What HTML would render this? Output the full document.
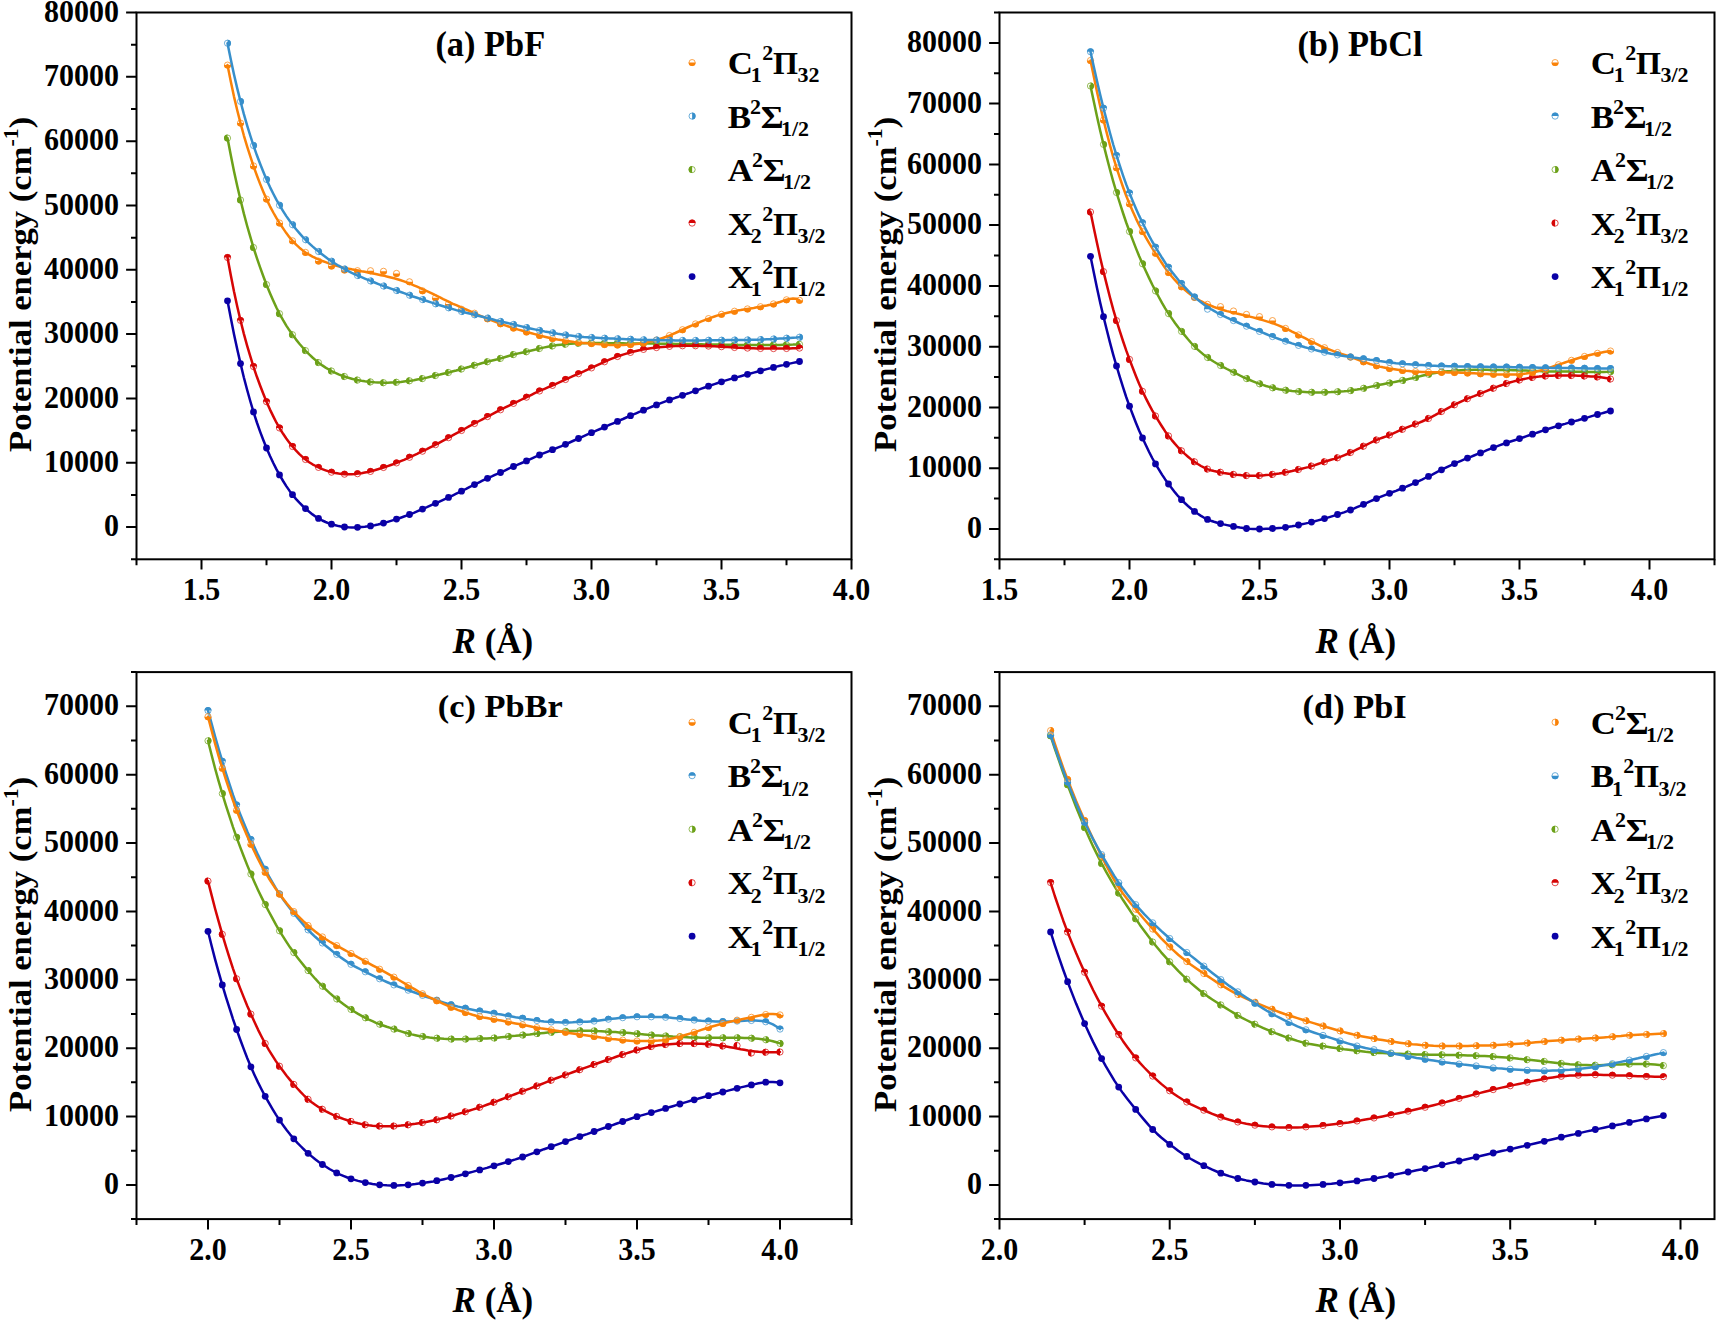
<!DOCTYPE html>
<html lang="en"><head><meta charset="utf-8"><title>Potential energy curves of PbX</title>
<style>html,body{margin:0;padding:0;background:#fff}svg{display:block}text{font-family:'Liberation Serif','Noto Serif CJK SC',serif;font-weight:bold;fill:#000}</style></head><body>
<svg width="1717" height="1321" viewBox="0 0 1717 1321">
<rect width="1717" height="1321" fill="#fff"/>
<g id="panel-a">
<g fill="#0A00A6"><circle cx="227.5" cy="300.8" r="3.4"/><circle cx="240.5" cy="363.6" r="3.4"/><circle cx="253.5" cy="411.9" r="3.4"/><circle cx="266.5" cy="448" r="3.4"/><circle cx="279.5" cy="474.9" r="3.4"/><circle cx="292.5" cy="494.7" r="3.4"/><circle cx="305.5" cy="508.6" r="3.4"/><circle cx="318.5" cy="518.4" r="3.4"/><circle cx="331.5" cy="524.2" r="3.4"/><circle cx="344.5" cy="527" r="3.4"/><circle cx="357.5" cy="527.3" r="3.4"/><circle cx="370.5" cy="525.9" r="3.4"/><circle cx="383.5" cy="523.1" r="3.4"/><circle cx="396.5" cy="519.1" r="3.4"/><circle cx="409.5" cy="514.5" r="3.4"/><circle cx="422.5" cy="509.1" r="3.4"/><circle cx="435.5" cy="503.3" r="3.4"/><circle cx="448.5" cy="497.4" r="3.4"/><circle cx="461.5" cy="491.2" r="3.4"/><circle cx="474.5" cy="484.6" r="3.4"/><circle cx="487.5" cy="478.3" r="3.4"/><circle cx="500.5" cy="472.5" r="3.4"/><circle cx="513.5" cy="466.5" r="3.4"/><circle cx="526.5" cy="460.9" r="3.4"/><circle cx="539.5" cy="455" r="3.4"/><circle cx="552.5" cy="449.7" r="3.4"/><circle cx="565.5" cy="444.3" r="3.4"/><circle cx="578.5" cy="438.5" r="3.4"/><circle cx="591.5" cy="432.7" r="3.4"/><circle cx="604.5" cy="427.1" r="3.4"/><circle cx="617.5" cy="421.4" r="3.4"/><circle cx="630.5" cy="415.7" r="3.4"/><circle cx="643.5" cy="410.2" r="3.4"/><circle cx="656.5" cy="404.9" r="3.4"/><circle cx="669.5" cy="399.9" r="3.4"/><circle cx="682.5" cy="395.3" r="3.4"/><circle cx="695.5" cy="390.8" r="3.4"/><circle cx="708.5" cy="386.2" r="3.4"/><circle cx="721.5" cy="381.8" r="3.4"/><circle cx="734.5" cy="377.9" r="3.4"/><circle cx="747.5" cy="374.3" r="3.4"/><circle cx="760.5" cy="370.8" r="3.4"/><circle cx="773.5" cy="367.4" r="3.4"/><circle cx="786.5" cy="364.3" r="3.4"/><circle cx="799.5" cy="361.5" r="3.4"/></g>
<polyline fill="none" stroke="#0A00A6" stroke-width="2.5" stroke-linejoin="round" stroke-linecap="round" points="227.5,300.8 230.8,318.1 234,334.3 237.3,349.6 240.6,363.9 243.8,377.3 247.1,389.8 250.4,401.5 253.6,412.4 256.9,422.5 260.2,431.8 263.5,440.5 266.7,448.5 270,456 273.3,463 276.5,469.4 279.8,475.4 283.1,481 286.3,486.1 289.6,490.9 292.9,495.2 296.1,499.1 299.4,502.7 302.7,506 305.9,509 309.2,511.8 312.5,514.4 315.8,516.7 319,518.7 322.3,520.5 325.6,522 328.8,523.3 332.1,524.4 335.4,525.3 338.6,526.1 341.9,526.7 345.2,527.1 348.4,527.3 351.7,527.4 355,527.4 358.2,527.3 361.5,527 364.8,526.7 368,526.3 371.3,525.8 374.6,525.2 377.9,524.5 381.1,523.7 384.4,522.9 387.7,521.9 390.9,520.9 394.2,519.9 397.5,518.8 400.7,517.7 404,516.5 407.3,515.3 410.5,514.1 413.8,512.8 417.1,511.4 420.3,510 423.6,508.6 426.9,507.2 430.2,505.7 433.4,504.2 436.7,502.8 440,501.3 443.2,499.8 446.5,498.3 449.8,496.8 453,495.3 456.3,493.7 459.6,492.2 462.8,490.5 466.1,488.9 469.4,487.2 472.6,485.5 475.9,483.9 479.2,482.3 482.4,480.7 485.7,479.1 489,477.6 492.3,476.2 495.5,474.7 498.8,473.3 502.1,471.8 505.3,470.3 508.6,468.7 511.9,467.2 515.1,465.8 518.4,464.4 521.7,463 524.9,461.6 528.2,460.1 531.5,458.6 534.7,457.1 538,455.7 541.3,454.2 544.6,452.9 547.8,451.6 551.1,450.3 554.4,449 557.6,447.6 560.9,446.3 564.2,444.9 567.4,443.5 570.7,442 574,440.5 577.2,439.1 580.5,437.6 583.8,436.1 587,434.7 590.3,433.2 593.6,431.8 596.8,430.4 600.1,429 603.4,427.6 606.7,426.2 609.9,424.7 613.2,423.3 616.5,421.9 619.7,420.4 623,419 626.3,417.5 629.5,416.1 632.8,414.7 636.1,413.3 639.3,411.9 642.6,410.6 645.9,409.2 649.1,407.9 652.4,406.5 655.7,405.2 659,403.9 662.2,402.7 665.5,401.4 668.8,400.2 672,399 675.3,397.8 678.6,396.7 681.8,395.5 685.1,394.4 688.4,393.3 691.6,392.1 694.9,391 698.2,389.9 701.4,388.7 704.7,387.5 708,386.4 711.2,385.2 714.5,384.1 717.8,383 721.1,381.9 724.3,380.9 727.6,379.9 730.9,378.9 734.1,378 737.4,377.1 740.7,376.2 743.9,375.3 747.2,374.4 750.5,373.5 753.7,372.6 757,371.7 760.3,370.9 763.5,370 766.8,369.1 770.1,368.3 773.4,367.4 776.6,366.6 779.9,365.8 783.2,365.1 786.4,364.3 789.7,363.6 793,362.9 796.2,362.2 799.5,361.5"/>
<g fill="#fff" fill-opacity="0.35" stroke="#6CA119" stroke-opacity="0.8" stroke-width="0.9"><circle cx="227.5" cy="138.1" r="3.1"/><circle cx="240.5" cy="200" r="3.1"/><circle cx="253.5" cy="247.5" r="3.1"/><circle cx="266.5" cy="284.6" r="3.1"/><circle cx="279.5" cy="313.7" r="3.1"/><circle cx="292.5" cy="334.7" r="3.1"/><circle cx="305.5" cy="350.6" r="3.1"/><circle cx="318.5" cy="362.6" r="3.1"/><circle cx="331.5" cy="371" r="3.1"/><circle cx="344.5" cy="376.5" r="3.1"/><circle cx="357.5" cy="380.1" r="3.1"/><circle cx="370.5" cy="381.9" r="3.1"/><circle cx="383.5" cy="382.7" r="3.1"/><circle cx="396.5" cy="382.3" r="3.1"/><circle cx="409.5" cy="380.8" r="3.1"/><circle cx="422.5" cy="378.6" r="3.1"/><circle cx="435.5" cy="375.5" r="3.1"/><circle cx="448.5" cy="372.5" r="3.1"/><circle cx="461.5" cy="369" r="3.1"/><circle cx="474.5" cy="365.3" r="3.1"/><circle cx="487.5" cy="361.7" r="3.1"/><circle cx="500.5" cy="358.4" r="3.1"/><circle cx="513.5" cy="354.6" r="3.1"/><circle cx="526.5" cy="351.7" r="3.1"/><circle cx="539.5" cy="348.5" r="3.1"/><circle cx="552.5" cy="345.9" r="3.1"/><circle cx="565.5" cy="344.2" r="3.1"/><circle cx="578.5" cy="343.3" r="3.1"/><circle cx="591.5" cy="343.1" r="3.1"/><circle cx="604.5" cy="343.2" r="3.1"/><circle cx="617.5" cy="343.3" r="3.1"/><circle cx="630.5" cy="343.4" r="3.1"/><circle cx="643.5" cy="343.5" r="3.1"/><circle cx="656.5" cy="343.6" r="3.1"/><circle cx="669.5" cy="343.8" r="3.1"/><circle cx="682.5" cy="344" r="3.1"/><circle cx="695.5" cy="344.2" r="3.1"/><circle cx="708.5" cy="344.5" r="3.1"/><circle cx="721.5" cy="344.7" r="3.1"/><circle cx="734.5" cy="344.9" r="3.1"/><circle cx="747.5" cy="345" r="3.1"/><circle cx="760.5" cy="345.1" r="3.1"/><circle cx="773.5" cy="345" r="3.1"/><circle cx="786.5" cy="344.8" r="3.1"/><circle cx="799.5" cy="344.3" r="3.1"/></g>
<path fill="#6CA119" d="M227.5 134.6a3.5 3.5 0 0 0 0 7zM240.5 196.5a3.5 3.5 0 0 0 0 7zM253.5 244a3.5 3.5 0 0 0 0 7zM266.5 281.1a3.5 3.5 0 0 0 0 7zM279.5 310.2a3.5 3.5 0 0 0 0 7zM292.5 331.2a3.5 3.5 0 0 0 0 7zM305.5 347.1a3.5 3.5 0 0 0 0 7zM318.5 359.1a3.5 3.5 0 0 0 0 7zM331.5 367.5a3.5 3.5 0 0 0 0 7zM344.5 373a3.5 3.5 0 0 0 0 7zM357.5 376.6a3.5 3.5 0 0 0 0 7zM370.5 378.4a3.5 3.5 0 0 0 0 7zM383.5 379.2a3.5 3.5 0 0 0 0 7zM396.5 378.8a3.5 3.5 0 0 0 0 7zM409.5 377.3a3.5 3.5 0 0 0 0 7zM422.5 375.1a3.5 3.5 0 0 0 0 7zM435.5 372a3.5 3.5 0 0 0 0 7zM448.5 369a3.5 3.5 0 0 0 0 7zM461.5 365.5a3.5 3.5 0 0 0 0 7zM474.5 361.8a3.5 3.5 0 0 0 0 7zM487.5 358.2a3.5 3.5 0 0 0 0 7zM500.5 354.9a3.5 3.5 0 0 0 0 7zM513.5 351.1a3.5 3.5 0 0 0 0 7zM526.5 348.2a3.5 3.5 0 0 0 0 7zM539.5 345a3.5 3.5 0 0 0 0 7zM552.5 342.4a3.5 3.5 0 0 0 0 7zM565.5 340.7a3.5 3.5 0 0 0 0 7zM578.5 339.8a3.5 3.5 0 0 0 0 7zM591.5 339.6a3.5 3.5 0 0 0 0 7zM604.5 339.7a3.5 3.5 0 0 0 0 7zM617.5 339.8a3.5 3.5 0 0 0 0 7zM630.5 339.9a3.5 3.5 0 0 0 0 7zM643.5 340a3.5 3.5 0 0 0 0 7zM656.5 340.1a3.5 3.5 0 0 0 0 7zM669.5 340.3a3.5 3.5 0 0 0 0 7zM682.5 340.5a3.5 3.5 0 0 0 0 7zM695.5 340.7a3.5 3.5 0 0 0 0 7zM708.5 341a3.5 3.5 0 0 0 0 7zM721.5 341.2a3.5 3.5 0 0 0 0 7zM734.5 341.4a3.5 3.5 0 0 0 0 7zM747.5 341.5a3.5 3.5 0 0 0 0 7zM760.5 341.6a3.5 3.5 0 0 0 0 7zM773.5 341.5a3.5 3.5 0 0 0 0 7zM786.5 341.3a3.5 3.5 0 0 0 0 7zM799.5 340.8a3.5 3.5 0 0 0 0 7z"/>
<polyline fill="none" stroke="#6CA119" stroke-width="2.5" stroke-linejoin="round" stroke-linecap="round" points="227.5,138.1 230.8,155.2 234,171.3 237.3,186.3 240.6,200.3 243.8,213.4 247.1,225.7 250.4,237.2 253.6,248 256.9,258.1 260.2,267.7 263.5,276.7 266.7,285.2 270,293.2 273.3,300.8 276.5,307.8 279.8,314.3 283.1,320.2 286.3,325.6 289.6,330.6 292.9,335.2 296.1,339.6 299.4,343.7 302.7,347.5 305.9,351.1 309.2,354.4 312.5,357.5 315.8,360.4 319,363 322.3,365.4 325.6,367.6 328.8,369.5 332.1,371.3 335.4,372.9 338.6,374.3 341.9,375.6 345.2,376.7 348.4,377.8 351.7,378.7 355,379.6 358.2,380.2 361.5,380.8 364.8,381.3 368,381.7 371.3,382 374.6,382.3 377.9,382.5 381.1,382.6 384.4,382.7 387.7,382.7 390.9,382.6 394.2,382.5 397.5,382.2 400.7,381.9 404,381.5 407.3,381.1 410.5,380.7 413.8,380.2 417.1,379.6 420.3,379 423.6,378.4 426.9,377.6 430.2,376.8 433.4,376 436.7,375.2 440,374.5 443.2,373.7 446.5,373 449.8,372.2 453,371.3 456.3,370.5 459.6,369.5 462.8,368.6 466.1,367.7 469.4,366.8 472.6,365.8 475.9,364.9 479.2,364 482.4,363 485.7,362.2 489,361.3 492.3,360.5 495.5,359.7 498.8,358.9 502.1,358 505.3,357 508.6,356 511.9,355 515.1,354.2 518.4,353.4 521.7,352.7 524.9,352 528.2,351.3 531.5,350.5 534.7,349.7 538,348.9 541.3,348.1 544.6,347.4 547.8,346.7 551.1,346.1 554.4,345.6 557.6,345.1 560.9,344.7 564.2,344.3 567.4,344 570.7,343.7 574,343.5 577.2,343.4 580.5,343.2 583.8,343.2 587,343.1 590.3,343.1 593.6,343.1 596.8,343.1 600.1,343.1 603.4,343.2 606.7,343.2 609.9,343.2 613.2,343.3 616.5,343.3 619.7,343.3 623,343.3 626.3,343.4 629.5,343.4 632.8,343.4 636.1,343.4 639.3,343.5 642.6,343.5 645.9,343.5 649.1,343.6 652.4,343.6 655.7,343.6 659,343.7 662.2,343.7 665.5,343.7 668.8,343.8 672,343.8 675.3,343.9 678.6,343.9 681.8,344 685.1,344 688.4,344.1 691.6,344.1 694.9,344.2 698.2,344.3 701.4,344.3 704.7,344.4 708,344.4 711.2,344.5 714.5,344.6 717.8,344.6 721.1,344.7 724.3,344.7 727.6,344.8 730.9,344.8 734.1,344.9 737.4,344.9 740.7,344.9 743.9,345 747.2,345 750.5,345 753.7,345 757,345 760.3,345.1 763.5,345.1 766.8,345 770.1,345 773.4,345 776.6,345 779.9,344.9 783.2,344.8 786.4,344.8 789.7,344.7 793,344.6 796.2,344.4 799.5,344.3"/>
<g fill="#fff" fill-opacity="0.35" stroke="#D60505" stroke-opacity="0.8" stroke-width="0.9"><circle cx="227.5" cy="257.5" r="3.1"/><circle cx="240.5" cy="320.4" r="3.1"/><circle cx="253.5" cy="366.6" r="3.1"/><circle cx="266.5" cy="401.7" r="3.1"/><circle cx="279.5" cy="428" r="3.1"/><circle cx="292.5" cy="446.5" r="3.1"/><circle cx="305.5" cy="459.5" r="3.1"/><circle cx="318.5" cy="467.4" r="3.1"/><circle cx="331.5" cy="472.2" r="3.1"/><circle cx="344.5" cy="474.2" r="3.1"/><circle cx="357.5" cy="473.7" r="3.1"/><circle cx="370.5" cy="471.4" r="3.1"/><circle cx="383.5" cy="467.5" r="3.1"/><circle cx="396.5" cy="462.9" r="3.1"/><circle cx="409.5" cy="457.3" r="3.1"/><circle cx="422.5" cy="451.2" r="3.1"/><circle cx="435.5" cy="444.7" r="3.1"/><circle cx="448.5" cy="437.7" r="3.1"/><circle cx="461.5" cy="430.5" r="3.1"/><circle cx="474.5" cy="423.5" r="3.1"/><circle cx="487.5" cy="416.6" r="3.1"/><circle cx="500.5" cy="409.8" r="3.1"/><circle cx="513.5" cy="403.4" r="3.1"/><circle cx="526.5" cy="397.2" r="3.1"/><circle cx="539.5" cy="391" r="3.1"/><circle cx="552.5" cy="385.4" r="3.1"/><circle cx="565.5" cy="379.5" r="3.1"/><circle cx="578.5" cy="373.7" r="3.1"/><circle cx="591.5" cy="367.9" r="3.1"/><circle cx="604.5" cy="361.8" r="3.1"/><circle cx="617.5" cy="356.5" r="3.1"/><circle cx="630.5" cy="352.4" r="3.1"/><circle cx="643.5" cy="349.4" r="3.1"/><circle cx="656.5" cy="347.6" r="3.1"/><circle cx="669.5" cy="346.4" r="3.1"/><circle cx="682.5" cy="345.8" r="3.1"/><circle cx="695.5" cy="345.8" r="3.1"/><circle cx="708.5" cy="346.1" r="3.1"/><circle cx="721.5" cy="346.7" r="3.1"/><circle cx="734.5" cy="347.5" r="3.1"/><circle cx="747.5" cy="348.1" r="3.1"/><circle cx="760.5" cy="348.5" r="3.1"/><circle cx="773.5" cy="348.6" r="3.1"/><circle cx="786.5" cy="348.5" r="3.1"/><circle cx="799.5" cy="348.1" r="3.1"/></g>
<path fill="#D60505" d="M224 257.5a3.5 3.5 0 0 1 7 0zM237 320.4a3.5 3.5 0 0 1 7 0zM250 366.6a3.5 3.5 0 0 1 7 0zM263 401.7a3.5 3.5 0 0 1 7 0zM276 428a3.5 3.5 0 0 1 7 0zM289 446.5a3.5 3.5 0 0 1 7 0zM302 459.5a3.5 3.5 0 0 1 7 0zM315 467.4a3.5 3.5 0 0 1 7 0zM328 472.2a3.5 3.5 0 0 1 7 0zM341 474.2a3.5 3.5 0 0 1 7 0zM354 473.7a3.5 3.5 0 0 1 7 0zM367 471.4a3.5 3.5 0 0 1 7 0zM380 467.5a3.5 3.5 0 0 1 7 0zM393 462.9a3.5 3.5 0 0 1 7 0zM406 457.3a3.5 3.5 0 0 1 7 0zM419 451.2a3.5 3.5 0 0 1 7 0zM432 444.7a3.5 3.5 0 0 1 7 0zM445 437.7a3.5 3.5 0 0 1 7 0zM458 430.5a3.5 3.5 0 0 1 7 0zM471 423.5a3.5 3.5 0 0 1 7 0zM484 416.6a3.5 3.5 0 0 1 7 0zM497 409.8a3.5 3.5 0 0 1 7 0zM510 403.4a3.5 3.5 0 0 1 7 0zM523 397.2a3.5 3.5 0 0 1 7 0zM536 391a3.5 3.5 0 0 1 7 0zM549 385.4a3.5 3.5 0 0 1 7 0zM562 379.5a3.5 3.5 0 0 1 7 0zM575 373.7a3.5 3.5 0 0 1 7 0zM588 367.9a3.5 3.5 0 0 1 7 0zM601 361.8a3.5 3.5 0 0 1 7 0zM614 356.5a3.5 3.5 0 0 1 7 0zM627 352.4a3.5 3.5 0 0 1 7 0zM640 349.4a3.5 3.5 0 0 1 7 0zM653 347.6a3.5 3.5 0 0 1 7 0zM666 346.4a3.5 3.5 0 0 1 7 0zM679 345.8a3.5 3.5 0 0 1 7 0zM692 345.8a3.5 3.5 0 0 1 7 0zM705 346.1a3.5 3.5 0 0 1 7 0zM718 346.7a3.5 3.5 0 0 1 7 0zM731 347.5a3.5 3.5 0 0 1 7 0zM744 348.1a3.5 3.5 0 0 1 7 0zM757 348.5a3.5 3.5 0 0 1 7 0zM770 348.6a3.5 3.5 0 0 1 7 0zM783 348.5a3.5 3.5 0 0 1 7 0zM796 348.1a3.5 3.5 0 0 1 7 0z"/>
<polyline fill="none" stroke="#D60505" stroke-width="2.5" stroke-linejoin="round" stroke-linecap="round" points="227.5,257.5 230.8,275.2 234,291.6 237.3,306.7 240.6,320.7 243.8,333.6 247.1,345.6 250.4,356.7 253.6,367.1 256.9,376.8 260.2,385.8 263.5,394.3 266.7,402.2 270,409.6 273.3,416.4 276.5,422.7 279.8,428.5 283.1,433.8 286.3,438.5 289.6,442.9 292.9,446.9 296.1,450.7 299.4,454.1 302.7,457.1 305.9,459.8 309.2,462.2 312.5,464.3 315.8,466 319,467.6 322.3,469.1 325.6,470.3 328.8,471.4 332.1,472.4 335.4,473.1 338.6,473.6 341.9,474 345.2,474.2 348.4,474.3 351.7,474.2 355,474 358.2,473.6 361.5,473.2 364.8,472.6 368,472 371.3,471.2 374.6,470.3 377.9,469.3 381.1,468.3 384.4,467.2 387.7,466.1 390.9,465 394.2,463.8 397.5,462.5 400.7,461.2 404,459.8 407.3,458.3 410.5,456.8 413.8,455.3 417.1,453.8 420.3,452.2 423.6,450.7 426.9,449.1 430.2,447.4 433.4,445.8 436.7,444.1 440,442.3 443.2,440.6 446.5,438.8 449.8,437 453,435.2 456.3,433.4 459.6,431.6 462.8,429.8 466.1,428 469.4,426.2 472.6,424.5 475.9,422.7 479.2,421 482.4,419.3 485.7,417.5 489,415.8 492.3,414.1 495.5,412.4 498.8,410.7 502.1,409 505.3,407.4 508.6,405.8 511.9,404.2 515.1,402.6 518.4,401.1 521.7,399.5 524.9,398 528.2,396.4 531.5,394.8 534.7,393.2 538,391.7 541.3,390.2 544.6,388.8 547.8,387.4 551.1,386 554.4,384.6 557.6,383.1 560.9,381.6 564.2,380.1 567.4,378.6 570.7,377.2 574,375.7 577.2,374.3 580.5,372.8 583.8,371.4 587,369.9 590.3,368.4 593.6,366.9 596.8,365.4 600.1,363.8 603.4,362.3 606.7,360.8 609.9,359.4 613.2,358.1 616.5,356.9 619.7,355.7 623,354.6 626.3,353.6 629.5,352.7 632.8,351.8 636.1,351 639.3,350.2 642.6,349.6 645.9,349 649.1,348.5 652.4,348.1 655.7,347.7 659,347.3 662.2,347 665.5,346.7 668.8,346.5 672,346.2 675.3,346.1 678.6,345.9 681.8,345.8 685.1,345.8 688.4,345.7 691.6,345.8 694.9,345.8 698.2,345.8 701.4,345.9 704.7,346 708,346.1 711.2,346.2 714.5,346.3 717.8,346.5 721.1,346.7 724.3,346.9 727.6,347.1 730.9,347.3 734.1,347.5 737.4,347.7 740.7,347.8 743.9,348 747.2,348.1 750.5,348.2 753.7,348.3 757,348.4 760.3,348.5 763.5,348.5 766.8,348.6 770.1,348.6 773.4,348.6 776.6,348.6 779.9,348.6 783.2,348.5 786.4,348.5 789.7,348.4 793,348.3 796.2,348.2 799.5,348.1"/>
<g fill="#fff" fill-opacity="0.35" stroke="#FA8208" stroke-opacity="0.8" stroke-width="0.9"><circle cx="227.5" cy="65.1" r="3.1"/><circle cx="240.5" cy="123.1" r="3.1"/><circle cx="253.5" cy="165.9" r="3.1"/><circle cx="266.5" cy="199.1" r="3.1"/><circle cx="279.5" cy="223" r="3.1"/><circle cx="292.5" cy="240.8" r="3.1"/><circle cx="305.5" cy="252.4" r="3.1"/><circle cx="318.5" cy="261.1" r="3.1"/><circle cx="331.5" cy="266" r="3.1"/><circle cx="344.5" cy="269.9" r="3.1"/><circle cx="357.5" cy="270.7" r="3.1"/><circle cx="370.5" cy="270.7" r="3.1"/><circle cx="383.5" cy="271.3" r="3.1"/><circle cx="396.5" cy="273.4" r="3.1"/><circle cx="409.5" cy="281.8" r="3.1"/><circle cx="422.5" cy="290.8" r="3.1"/><circle cx="435.5" cy="297.8" r="3.1"/><circle cx="448.5" cy="304" r="3.1"/><circle cx="461.5" cy="309.2" r="3.1"/><circle cx="474.5" cy="313.2" r="3.1"/><circle cx="487.5" cy="318.8" r="3.1"/><circle cx="500.5" cy="323.7" r="3.1"/><circle cx="513.5" cy="328.1" r="3.1"/><circle cx="526.5" cy="331.9" r="3.1"/><circle cx="539.5" cy="335.4" r="3.1"/><circle cx="552.5" cy="338.6" r="3.1"/><circle cx="565.5" cy="340.8" r="3.1"/><circle cx="578.5" cy="342.5" r="3.1"/><circle cx="591.5" cy="343.6" r="3.1"/><circle cx="604.5" cy="344.6" r="3.1"/><circle cx="617.5" cy="345" r="3.1"/><circle cx="630.5" cy="344.6" r="3.1"/><circle cx="643.5" cy="343.1" r="3.1"/><circle cx="656.5" cy="340" r="3.1"/><circle cx="669.5" cy="335.5" r="3.1"/><circle cx="682.5" cy="329.7" r="3.1"/><circle cx="695.5" cy="323.9" r="3.1"/><circle cx="708.5" cy="318.6" r="3.1"/><circle cx="721.5" cy="314.3" r="3.1"/><circle cx="734.5" cy="311.2" r="3.1"/><circle cx="747.5" cy="308.9" r="3.1"/><circle cx="760.5" cy="306.7" r="3.1"/><circle cx="773.5" cy="303.9" r="3.1"/><circle cx="786.5" cy="299.8" r="3.1"/><circle cx="799.5" cy="300.3" r="3.1"/></g>
<path fill="#FA8208" d="M224 65.1a3.5 3.5 0 0 0 7 0zM237 123.1a3.5 3.5 0 0 0 7 0zM250 165.9a3.5 3.5 0 0 0 7 0zM263 199.1a3.5 3.5 0 0 0 7 0zM276 223a3.5 3.5 0 0 0 7 0zM289 240.8a3.5 3.5 0 0 0 7 0zM302 252.4a3.5 3.5 0 0 0 7 0zM315 261.1a3.5 3.5 0 0 0 7 0zM328 266a3.5 3.5 0 0 0 7 0zM341 269.9a3.5 3.5 0 0 0 7 0zM354 270.7a3.5 3.5 0 0 0 7 0zM367 270.7a3.5 3.5 0 0 0 7 0zM380 271.3a3.5 3.5 0 0 0 7 0zM393 273.4a3.5 3.5 0 0 0 7 0zM406 281.8a3.5 3.5 0 0 0 7 0zM419 290.8a3.5 3.5 0 0 0 7 0zM432 297.8a3.5 3.5 0 0 0 7 0zM445 304a3.5 3.5 0 0 0 7 0zM458 309.2a3.5 3.5 0 0 0 7 0zM471 313.2a3.5 3.5 0 0 0 7 0zM484 318.8a3.5 3.5 0 0 0 7 0zM497 323.7a3.5 3.5 0 0 0 7 0zM510 328.1a3.5 3.5 0 0 0 7 0zM523 331.9a3.5 3.5 0 0 0 7 0zM536 335.4a3.5 3.5 0 0 0 7 0zM549 338.6a3.5 3.5 0 0 0 7 0zM562 340.8a3.5 3.5 0 0 0 7 0zM575 342.5a3.5 3.5 0 0 0 7 0zM588 343.6a3.5 3.5 0 0 0 7 0zM601 344.6a3.5 3.5 0 0 0 7 0zM614 345a3.5 3.5 0 0 0 7 0zM627 344.6a3.5 3.5 0 0 0 7 0zM640 343.1a3.5 3.5 0 0 0 7 0zM653 340a3.5 3.5 0 0 0 7 0zM666 335.5a3.5 3.5 0 0 0 7 0zM679 329.7a3.5 3.5 0 0 0 7 0zM692 323.9a3.5 3.5 0 0 0 7 0zM705 318.6a3.5 3.5 0 0 0 7 0zM718 314.3a3.5 3.5 0 0 0 7 0zM731 311.2a3.5 3.5 0 0 0 7 0zM744 308.9a3.5 3.5 0 0 0 7 0zM757 306.7a3.5 3.5 0 0 0 7 0zM770 303.9a3.5 3.5 0 0 0 7 0zM783 299.8a3.5 3.5 0 0 0 7 0zM796 300.3a3.5 3.5 0 0 0 7 0z"/>
<polyline fill="none" stroke="#FA8208" stroke-width="2.5" stroke-linejoin="round" stroke-linecap="round" points="227.5,65.1 230.8,81.5 234,96.6 237.3,110.5 240.6,123.4 243.8,135.3 247.1,146.3 250.4,156.6 253.6,166.3 256.9,175.5 260.2,184.1 263.5,192.2 266.7,199.6 270,206.3 273.3,212.5 276.5,218.2 279.8,223.5 283.1,228.4 286.3,233.1 289.6,237.4 292.9,241.2 296.1,244.7 299.4,247.7 302.7,250.4 305.9,252.7 309.2,254.7 312.5,256.6 315.8,258.2 319,259.6 322.3,261 325.6,262.2 328.8,263.4 332.1,264.5 335.4,265.5 338.6,266.4 341.9,267.2 345.2,267.9 348.4,268.6 351.7,269.3 355,269.9 358.2,270.5 361.5,271.2 364.8,271.8 368,272.5 371.3,273.2 374.6,273.8 377.9,274.5 381.1,275.2 384.4,275.9 387.7,276.7 390.9,277.5 394.2,278.3 397.5,279.3 400.7,280.3 404,281.4 407.3,282.6 410.5,283.9 413.8,285.3 417.1,286.7 420.3,288.1 423.6,289.6 426.9,291.1 430.2,292.6 433.4,294.2 436.7,295.8 440,297.4 443.2,299.1 446.5,300.7 449.8,302.3 453,303.8 456.3,305.2 459.6,306.7 462.8,308.1 466.1,309.5 469.4,310.9 472.6,312.4 475.9,313.8 479.2,315.3 482.4,316.7 485.7,318.1 489,319.4 492.3,320.7 495.5,321.9 498.8,323.1 502.1,324.3 505.3,325.4 508.6,326.5 511.9,327.6 515.1,328.6 518.4,329.6 521.7,330.5 524.9,331.5 528.2,332.4 531.5,333.3 534.7,334.1 538,335 541.3,335.9 544.6,336.7 547.8,337.5 551.1,338.3 554.4,339 557.6,339.6 560.9,340.1 564.2,340.6 567.4,341.1 570.7,341.5 574,342 577.2,342.4 580.5,342.7 583.8,343 587,343.3 590.3,343.5 593.6,343.8 596.8,344 600.1,344.3 603.4,344.5 606.7,344.7 609.9,344.9 613.2,345 616.5,345 619.7,345 623,344.9 626.3,344.8 629.5,344.7 632.8,344.4 636.1,344.1 639.3,343.7 642.6,343.3 645.9,342.7 649.1,341.9 652.4,341.1 655.7,340.2 659,339.3 662.2,338.2 665.5,337 668.8,335.8 672,334.4 675.3,333 678.6,331.5 681.8,330 685.1,328.5 688.4,327 691.6,325.6 694.9,324.2 698.2,322.8 701.4,321.4 704.7,320.1 708,318.8 711.2,317.6 714.5,316.5 717.8,315.4 721.1,314.4 724.3,313.5 727.6,312.7 730.9,312 734.1,311.3 737.4,310.6 740.7,310.1 743.9,309.5 747.2,308.9 750.5,308.4 753.7,307.9 757,307.3 760.3,306.7 763.5,306.1 766.8,305.5 770.1,304.8 773.4,303.9 776.6,303 779.9,302 783.2,300.9 786.4,299.8 789.7,298.9 793,298.4 796.2,298.7 799.5,300.3"/>
<g fill="#fff" fill-opacity="0.35" stroke="#378FCB" stroke-opacity="0.8" stroke-width="0.9"><circle cx="227.5" cy="43.2" r="3.1"/><circle cx="240.5" cy="101.4" r="3.1"/><circle cx="253.5" cy="145.5" r="3.1"/><circle cx="266.5" cy="179.4" r="3.1"/><circle cx="279.5" cy="205.2" r="3.1"/><circle cx="292.5" cy="224.7" r="3.1"/><circle cx="305.5" cy="239.7" r="3.1"/><circle cx="318.5" cy="251.5" r="3.1"/><circle cx="331.5" cy="261.2" r="3.1"/><circle cx="344.5" cy="269" r="3.1"/><circle cx="357.5" cy="275.5" r="3.1"/><circle cx="370.5" cy="280.9" r="3.1"/><circle cx="383.5" cy="286" r="3.1"/><circle cx="396.5" cy="290.5" r="3.1"/><circle cx="409.5" cy="295.2" r="3.1"/><circle cx="422.5" cy="299.6" r="3.1"/><circle cx="435.5" cy="303.8" r="3.1"/><circle cx="448.5" cy="307.8" r="3.1"/><circle cx="461.5" cy="311.5" r="3.1"/><circle cx="474.5" cy="314.8" r="3.1"/><circle cx="487.5" cy="318.1" r="3.1"/><circle cx="500.5" cy="321.4" r="3.1"/><circle cx="513.5" cy="324.4" r="3.1"/><circle cx="526.5" cy="327.6" r="3.1"/><circle cx="539.5" cy="330.4" r="3.1"/><circle cx="552.5" cy="332.8" r="3.1"/><circle cx="565.5" cy="334.9" r="3.1"/><circle cx="578.5" cy="336.5" r="3.1"/><circle cx="591.5" cy="337.5" r="3.1"/><circle cx="604.5" cy="338.2" r="3.1"/><circle cx="617.5" cy="338.8" r="3.1"/><circle cx="630.5" cy="339.3" r="3.1"/><circle cx="643.5" cy="339.8" r="3.1"/><circle cx="656.5" cy="340.1" r="3.1"/><circle cx="669.5" cy="340.3" r="3.1"/><circle cx="682.5" cy="340.4" r="3.1"/><circle cx="695.5" cy="340.4" r="3.1"/><circle cx="708.5" cy="340.3" r="3.1"/><circle cx="721.5" cy="340.2" r="3.1"/><circle cx="734.5" cy="340.1" r="3.1"/><circle cx="747.5" cy="339.9" r="3.1"/><circle cx="760.5" cy="339.6" r="3.1"/><circle cx="773.5" cy="339" r="3.1"/><circle cx="786.5" cy="338.2" r="3.1"/><circle cx="799.5" cy="337.2" r="3.1"/></g>
<path fill="#378FCB" d="M227.5 39.7a3.5 3.5 0 0 1 0 7zM240.5 97.9a3.5 3.5 0 0 1 0 7zM253.5 142a3.5 3.5 0 0 1 0 7zM266.5 175.9a3.5 3.5 0 0 1 0 7zM279.5 201.7a3.5 3.5 0 0 1 0 7zM292.5 221.2a3.5 3.5 0 0 1 0 7zM305.5 236.2a3.5 3.5 0 0 1 0 7zM318.5 248a3.5 3.5 0 0 1 0 7zM331.5 257.7a3.5 3.5 0 0 1 0 7zM344.5 265.5a3.5 3.5 0 0 1 0 7zM357.5 272a3.5 3.5 0 0 1 0 7zM370.5 277.4a3.5 3.5 0 0 1 0 7zM383.5 282.5a3.5 3.5 0 0 1 0 7zM396.5 287a3.5 3.5 0 0 1 0 7zM409.5 291.7a3.5 3.5 0 0 1 0 7zM422.5 296.1a3.5 3.5 0 0 1 0 7zM435.5 300.3a3.5 3.5 0 0 1 0 7zM448.5 304.3a3.5 3.5 0 0 1 0 7zM461.5 308a3.5 3.5 0 0 1 0 7zM474.5 311.3a3.5 3.5 0 0 1 0 7zM487.5 314.6a3.5 3.5 0 0 1 0 7zM500.5 317.9a3.5 3.5 0 0 1 0 7zM513.5 320.9a3.5 3.5 0 0 1 0 7zM526.5 324.1a3.5 3.5 0 0 1 0 7zM539.5 326.9a3.5 3.5 0 0 1 0 7zM552.5 329.3a3.5 3.5 0 0 1 0 7zM565.5 331.4a3.5 3.5 0 0 1 0 7zM578.5 333a3.5 3.5 0 0 1 0 7zM591.5 334a3.5 3.5 0 0 1 0 7zM604.5 334.7a3.5 3.5 0 0 1 0 7zM617.5 335.3a3.5 3.5 0 0 1 0 7zM630.5 335.8a3.5 3.5 0 0 1 0 7zM643.5 336.3a3.5 3.5 0 0 1 0 7zM656.5 336.6a3.5 3.5 0 0 1 0 7zM669.5 336.8a3.5 3.5 0 0 1 0 7zM682.5 336.9a3.5 3.5 0 0 1 0 7zM695.5 336.9a3.5 3.5 0 0 1 0 7zM708.5 336.8a3.5 3.5 0 0 1 0 7zM721.5 336.7a3.5 3.5 0 0 1 0 7zM734.5 336.6a3.5 3.5 0 0 1 0 7zM747.5 336.4a3.5 3.5 0 0 1 0 7zM760.5 336.1a3.5 3.5 0 0 1 0 7zM773.5 335.5a3.5 3.5 0 0 1 0 7zM786.5 334.7a3.5 3.5 0 0 1 0 7zM799.5 333.7a3.5 3.5 0 0 1 0 7z"/>
<polyline fill="none" stroke="#378FCB" stroke-width="2.5" stroke-linejoin="round" stroke-linecap="round" points="227.5,43.2 230.8,59.4 234,74.5 237.3,88.6 240.6,101.7 243.8,113.9 247.1,125.3 250.4,136 253.6,145.9 256.9,155.3 260.2,164 263.5,172.2 266.7,179.9 270,187.1 273.3,193.7 276.5,199.9 279.8,205.7 283.1,211.1 286.3,216.1 289.6,220.8 292.9,225.2 296.1,229.3 299.4,233.1 302.7,236.8 305.9,240.2 309.2,243.3 312.5,246.4 315.8,249.2 319,251.9 322.3,254.5 325.6,257 328.8,259.4 332.1,261.6 335.4,263.7 338.6,265.7 341.9,267.6 345.2,269.4 348.4,271.1 351.7,272.8 355,274.3 358.2,275.8 361.5,277.2 364.8,278.6 368,279.9 371.3,281.2 374.6,282.5 377.9,283.8 381.1,285.1 384.4,286.3 387.7,287.5 390.9,288.6 394.2,289.7 397.5,290.8 400.7,292 404,293.2 407.3,294.4 410.5,295.6 413.8,296.7 417.1,297.8 420.3,298.9 423.6,300 426.9,301 430.2,302.1 433.4,303.1 436.7,304.2 440,305.2 443.2,306.2 446.5,307.2 449.8,308.2 453,309.1 456.3,310.1 459.6,311 462.8,311.9 466.1,312.7 469.4,313.5 472.6,314.3 475.9,315.2 479.2,316 482.4,316.8 485.7,317.6 489,318.5 492.3,319.3 495.5,320.2 498.8,321 502.1,321.8 505.3,322.5 508.6,323.3 511.9,324 515.1,324.8 518.4,325.6 521.7,326.4 524.9,327.2 528.2,328 531.5,328.7 534.7,329.4 538,330.1 541.3,330.7 544.6,331.4 547.8,332 551.1,332.6 554.4,333.1 557.6,333.7 560.9,334.2 564.2,334.7 567.4,335.2 570.7,335.6 574,336 577.2,336.4 580.5,336.7 583.8,337 587,337.2 590.3,337.4 593.6,337.6 596.8,337.8 600.1,338 603.4,338.2 606.7,338.3 609.9,338.5 613.2,338.6 616.5,338.8 619.7,338.9 623,339 626.3,339.2 629.5,339.3 632.8,339.4 636.1,339.6 639.3,339.7 642.6,339.8 645.9,339.9 649.1,340 652.4,340 655.7,340.1 659,340.2 662.2,340.2 665.5,340.3 668.8,340.3 672,340.3 675.3,340.4 678.6,340.4 681.8,340.4 685.1,340.4 688.4,340.4 691.6,340.4 694.9,340.4 698.2,340.4 701.4,340.4 704.7,340.3 708,340.3 711.2,340.3 714.5,340.3 717.8,340.2 721.1,340.2 724.3,340.2 727.6,340.1 730.9,340.1 734.1,340.1 737.4,340.1 740.7,340 743.9,340 747.2,339.9 750.5,339.8 753.7,339.8 757,339.7 760.3,339.6 763.5,339.4 766.8,339.3 770.1,339.2 773.4,339 776.6,338.8 779.9,338.6 783.2,338.4 786.4,338.2 789.7,338 793,337.7 796.2,337.5 799.5,337.2"/>
<g stroke="#000" stroke-width="2" fill="none">
<rect x="136.5" y="12.5" width="715" height="546.8"/>
<path d="M136.5 559.3v6M201.5 559.3v10.3M266.5 559.3v6M331.5 559.3v10.3M396.5 559.3v6M461.5 559.3v10.3M526.5 559.3v6M591.5 559.3v10.3M656.5 559.3v6M721.5 559.3v10.3M786.5 559.3v6M851.5 559.3v10.3M136.5 559.3h-5.5M136.5 527.1h-10.4M136.5 495h-5.5M136.5 462.8h-10.4M136.5 430.6h-5.5M136.5 398.5h-10.4M136.5 366.3h-5.5M136.5 334.1h-10.4M136.5 302h-5.5M136.5 269.8h-10.4M136.5 237.7h-5.5M136.5 205.5h-10.4M136.5 173.3h-5.5M136.5 141.2h-10.4M136.5 109h-5.5M136.5 76.8h-10.4M136.5 44.7h-5.5M136.5 12.5h-10.4"/>
</g>
<g font-size="30" text-anchor="middle">
<text transform="translate(201.5 599.9) scale(1 1.03)">1.5</text>
<text transform="translate(331.5 599.9) scale(1 1.03)">2.0</text>
<text transform="translate(461.5 599.9) scale(1 1.03)">2.5</text>
<text transform="translate(591.5 599.9) scale(1 1.03)">3.0</text>
<text transform="translate(721.5 599.9) scale(1 1.03)">3.5</text>
<text transform="translate(851.5 599.9) scale(1 1.03)">4.0</text>
</g>
<g font-size="30" text-anchor="end">
<text transform="translate(118.9 536.2) scale(1 1.03)">0</text>
<text transform="translate(118.9 471.9) scale(1 1.03)">10000</text>
<text transform="translate(118.9 407.6) scale(1 1.03)">20000</text>
<text transform="translate(118.9 343.2) scale(1 1.03)">30000</text>
<text transform="translate(118.9 278.9) scale(1 1.03)">40000</text>
<text transform="translate(118.9 214.6) scale(1 1.03)">50000</text>
<text transform="translate(118.9 150.3) scale(1 1.03)">60000</text>
<text transform="translate(118.9 85.9) scale(1 1.03)">70000</text>
<text transform="translate(118.9 21.6) scale(1 1.03)">80000</text>
</g>
<text x="492.9" y="652.6" font-size="35" text-anchor="middle"><tspan font-style="italic">R</tspan> (Å)</text>
<text transform="translate(31.4 284.3) rotate(-90) scale(1 0.94)" font-size="34.6" text-anchor="middle">Potential energy (cm<tspan dy="-14.2" font-size="22">-1</tspan><tspan dy="14.2">)</tspan></text>
<text transform="translate(435.4 56.4) scale(1 1.04)" font-size="34.4">(a) PbF</text>
<g fill="#fff" fill-opacity="0.35" stroke="#FA8208" stroke-opacity="0.8" stroke-width="0.9"><circle cx="692.1" cy="62.6" r="3.1"/></g>
<path fill="#FA8208" d="M688.6 62.6a3.5 3.5 0 0 0 7 0z"/>
<text transform="translate(727.7 74.1) scale(1 0.92)" font-size="35"><tspan dx="0" dy="0" font-size="35">C</tspan><tspan dx="-2.1" dy="9.1" font-size="22">1</tspan><tspan dx="0.4" dy="-24.3" font-size="22">2</tspan><tspan dx="-0.3" dy="15.2" font-size="35" textLength="25" lengthAdjust="spacingAndGlyphs">Π</tspan><tspan dx="-0.5" dy="9.1" font-size="22">32</tspan></text>
<g fill="#fff" fill-opacity="0.35" stroke="#378FCB" stroke-opacity="0.8" stroke-width="0.9"><circle cx="692.1" cy="116.1" r="3.1"/></g>
<path fill="#378FCB" d="M692.1 112.6a3.5 3.5 0 0 1 0 7z"/>
<text transform="translate(727.7 127.6) scale(1 0.92)" font-size="35"><tspan dx="0" dy="0" font-size="35">B</tspan><tspan dx="-1" dy="-15.2" font-size="22">2</tspan><tspan dx="-0.3" dy="15.2" font-size="35">Σ</tspan><tspan dx="-2.6" dy="9.1" font-size="22">1/2</tspan></text>
<g fill="#fff" fill-opacity="0.35" stroke="#6CA119" stroke-opacity="0.8" stroke-width="0.9"><circle cx="692.1" cy="169.6" r="3.1"/></g>
<path fill="#6CA119" d="M692.1 166.1a3.5 3.5 0 0 0 0 7z"/>
<text transform="translate(727.7 181.1) scale(1 0.92)" font-size="35"><tspan dx="0" dy="0" font-size="35">A</tspan><tspan dx="-1" dy="-15.2" font-size="22">2</tspan><tspan dx="-0.3" dy="15.2" font-size="35">Σ</tspan><tspan dx="-2.6" dy="9.1" font-size="22">1/2</tspan></text>
<g fill="#fff" fill-opacity="0.35" stroke="#D60505" stroke-opacity="0.8" stroke-width="0.9"><circle cx="692.1" cy="223.1" r="3.1"/></g>
<path fill="#D60505" d="M688.6 223.1a3.5 3.5 0 0 1 7 0z"/>
<text transform="translate(727.7 234.6) scale(1 0.92)" font-size="35"><tspan dx="0" dy="0" font-size="35">X</tspan><tspan dx="-2.1" dy="9.1" font-size="22">2</tspan><tspan dx="0.4" dy="-24.3" font-size="22">2</tspan><tspan dx="-0.3" dy="15.2" font-size="35" textLength="25" lengthAdjust="spacingAndGlyphs">Π</tspan><tspan dx="-0.5" dy="9.1" font-size="22">3/2</tspan></text>
<g fill="#0A00A6"><circle cx="692.1" cy="276.6" r="3.4"/></g>
<text transform="translate(727.7 288.1) scale(1 0.92)" font-size="35"><tspan dx="0" dy="0" font-size="35">X</tspan><tspan dx="-2.1" dy="9.1" font-size="22">1</tspan><tspan dx="0.4" dy="-24.3" font-size="22">2</tspan><tspan dx="-0.3" dy="15.2" font-size="35" textLength="25" lengthAdjust="spacingAndGlyphs">Π</tspan><tspan dx="-0.5" dy="9.1" font-size="22">1/2</tspan></text>
</g>
<g id="panel-b">
<g fill="#0A00A6"><circle cx="1090.5" cy="256.3" r="3.4"/><circle cx="1103.5" cy="316.7" r="3.4"/><circle cx="1116.5" cy="366" r="3.4"/><circle cx="1129.5" cy="406.2" r="3.4"/><circle cx="1142.5" cy="438" r="3.4"/><circle cx="1155.5" cy="463.9" r="3.4"/><circle cx="1168.5" cy="484" r="3.4"/><circle cx="1181.5" cy="499.7" r="3.4"/><circle cx="1194.5" cy="511.4" r="3.4"/><circle cx="1207.5" cy="519.4" r="3.4"/><circle cx="1220.5" cy="523.6" r="3.4"/><circle cx="1233.5" cy="526.4" r="3.4"/><circle cx="1246.5" cy="528.5" r="3.4"/><circle cx="1259.5" cy="529" r="3.4"/><circle cx="1272.5" cy="528.5" r="3.4"/><circle cx="1285.5" cy="527.3" r="3.4"/><circle cx="1298.5" cy="525" r="3.4"/><circle cx="1311.5" cy="522.1" r="3.4"/><circle cx="1324.5" cy="518.6" r="3.4"/><circle cx="1337.5" cy="514.5" r="3.4"/><circle cx="1350.5" cy="510" r="3.4"/><circle cx="1363.5" cy="504.3" r="3.4"/><circle cx="1376.5" cy="498.6" r="3.4"/><circle cx="1389.5" cy="493.3" r="3.4"/><circle cx="1402.5" cy="488.2" r="3.4"/><circle cx="1415.5" cy="482.6" r="3.4"/><circle cx="1428.5" cy="476.4" r="3.4"/><circle cx="1441.5" cy="469.8" r="3.4"/><circle cx="1454.5" cy="463.6" r="3.4"/><circle cx="1467.5" cy="458.1" r="3.4"/><circle cx="1480.5" cy="452.9" r="3.4"/><circle cx="1493.5" cy="447.6" r="3.4"/><circle cx="1506.5" cy="442.9" r="3.4"/><circle cx="1519.5" cy="438.6" r="3.4"/><circle cx="1532.5" cy="434.2" r="3.4"/><circle cx="1545.5" cy="429.8" r="3.4"/><circle cx="1558.5" cy="425.8" r="3.4"/><circle cx="1571.5" cy="422" r="3.4"/><circle cx="1584.5" cy="418.3" r="3.4"/><circle cx="1597.5" cy="414.5" r="3.4"/><circle cx="1610.5" cy="411" r="3.4"/></g>
<polyline fill="none" stroke="#0A00A6" stroke-width="2.5" stroke-linejoin="round" stroke-linecap="round" points="1090.5,256.3 1093.8,272.6 1097,288 1100.2,302.7 1103.5,316.7 1106.8,330 1110,342.6 1113.2,354.6 1116.5,366 1119.8,376.9 1123,387.2 1126.2,397 1129.5,406.2 1132.8,414.8 1136,423 1139.2,430.7 1142.5,438 1145.8,445 1149,451.7 1152.2,458 1155.5,463.9 1158.8,469.4 1162,474.6 1165.2,479.4 1168.5,484 1171.8,488.3 1175,492.4 1178.2,496.2 1181.5,499.7 1184.8,503 1188,506 1191.2,508.8 1194.5,511.4 1197.8,513.8 1201,515.9 1204.2,517.8 1207.5,519.4 1210.8,520.7 1214,521.8 1217.2,522.8 1220.5,523.6 1223.8,524.4 1227,525.1 1230.2,525.8 1233.5,526.4 1236.8,527 1240,527.6 1243.2,528.1 1246.5,528.5 1249.8,528.8 1253,528.9 1256.2,529 1259.5,529 1262.8,528.9 1266,528.8 1269.2,528.7 1272.5,528.5 1275.8,528.3 1279,528 1282.2,527.7 1285.5,527.3 1288.8,526.8 1292,526.3 1295.2,525.7 1298.5,525 1301.8,524.3 1305,523.6 1308.2,522.9 1311.5,522.1 1314.8,521.3 1318,520.4 1321.2,519.5 1324.5,518.6 1327.8,517.6 1331,516.6 1334.2,515.6 1337.5,514.5 1340.8,513.4 1344,512.4 1347.2,511.2 1350.5,510 1353.8,508.7 1357,507.2 1360.2,505.8 1363.5,504.3 1366.8,502.8 1370,501.4 1373.2,500 1376.5,498.6 1379.8,497.2 1383,495.9 1386.2,494.6 1389.5,493.3 1392.8,492 1396,490.8 1399.2,489.5 1402.5,488.2 1405.8,486.9 1409,485.5 1412.2,484.1 1415.5,482.6 1418.8,481.1 1422,479.6 1425.2,478 1428.5,476.4 1431.8,474.8 1435,473.1 1438.2,471.4 1441.5,469.8 1444.8,468.2 1448,466.6 1451.2,465.1 1454.5,463.6 1457.8,462.2 1461,460.8 1464.2,459.4 1467.5,458.1 1470.8,456.8 1474,455.5 1477.2,454.2 1480.5,452.9 1483.8,451.6 1487,450.2 1490.2,448.9 1493.5,447.6 1496.8,446.4 1500,445.2 1503.2,444 1506.5,442.9 1509.8,441.8 1513,440.7 1516.2,439.7 1519.5,438.6 1522.8,437.5 1526,436.4 1529.2,435.3 1532.5,434.2 1535.8,433.1 1539,432 1542.2,430.9 1545.5,429.8 1548.8,428.8 1552,427.8 1555.2,426.8 1558.5,425.8 1561.8,424.8 1565,423.9 1568.2,422.9 1571.5,422 1574.8,421.1 1578,420.2 1581.2,419.2 1584.5,418.3 1587.8,417.4 1591,416.4 1594.2,415.4 1597.5,414.5 1600.8,413.6 1604,412.7 1607.2,411.8 1610.5,411"/>
<g fill="#fff" fill-opacity="0.35" stroke="#6CA119" stroke-opacity="0.8" stroke-width="0.9"><circle cx="1090.5" cy="86" r="3.1"/><circle cx="1103.5" cy="144.4" r="3.1"/><circle cx="1116.5" cy="192.5" r="3.1"/><circle cx="1129.5" cy="231.5" r="3.1"/><circle cx="1142.5" cy="263.8" r="3.1"/><circle cx="1155.5" cy="290.9" r="3.1"/><circle cx="1168.5" cy="313.6" r="3.1"/><circle cx="1181.5" cy="331.4" r="3.1"/><circle cx="1194.5" cy="346.4" r="3.1"/><circle cx="1207.5" cy="357.5" r="3.1"/><circle cx="1220.5" cy="365.5" r="3.1"/><circle cx="1233.5" cy="372.3" r="3.1"/><circle cx="1246.5" cy="378.6" r="3.1"/><circle cx="1259.5" cy="383.8" r="3.1"/><circle cx="1272.5" cy="387.8" r="3.1"/><circle cx="1285.5" cy="390.2" r="3.1"/><circle cx="1298.5" cy="391.6" r="3.1"/><circle cx="1311.5" cy="392.3" r="3.1"/><circle cx="1324.5" cy="392.3" r="3.1"/><circle cx="1337.5" cy="391.7" r="3.1"/><circle cx="1350.5" cy="390.6" r="3.1"/><circle cx="1363.5" cy="388.3" r="3.1"/><circle cx="1376.5" cy="385.5" r="3.1"/><circle cx="1389.5" cy="383" r="3.1"/><circle cx="1402.5" cy="380.4" r="3.1"/><circle cx="1415.5" cy="377.4" r="3.1"/><circle cx="1428.5" cy="374.3" r="3.1"/><circle cx="1441.5" cy="372" r="3.1"/><circle cx="1454.5" cy="370.7" r="3.1"/><circle cx="1467.5" cy="370" r="3.1"/><circle cx="1480.5" cy="369.8" r="3.1"/><circle cx="1493.5" cy="369.9" r="3.1"/><circle cx="1506.5" cy="370.1" r="3.1"/><circle cx="1519.5" cy="370.4" r="3.1"/><circle cx="1532.5" cy="370.9" r="3.1"/><circle cx="1545.5" cy="371.3" r="3.1"/><circle cx="1558.5" cy="371.5" r="3.1"/><circle cx="1571.5" cy="371.6" r="3.1"/><circle cx="1584.5" cy="371.9" r="3.1"/><circle cx="1597.5" cy="372" r="3.1"/><circle cx="1610.5" cy="371.6" r="3.1"/></g>
<path fill="#6CA119" d="M1090.5 82.5a3.5 3.5 0 0 1 0 7zM1103.5 140.9a3.5 3.5 0 0 1 0 7zM1116.5 189a3.5 3.5 0 0 1 0 7zM1129.5 228a3.5 3.5 0 0 1 0 7zM1142.5 260.3a3.5 3.5 0 0 1 0 7zM1155.5 287.4a3.5 3.5 0 0 1 0 7zM1168.5 310.1a3.5 3.5 0 0 1 0 7zM1181.5 327.9a3.5 3.5 0 0 1 0 7zM1194.5 342.9a3.5 3.5 0 0 1 0 7zM1207.5 354a3.5 3.5 0 0 1 0 7zM1220.5 362a3.5 3.5 0 0 1 0 7zM1233.5 368.8a3.5 3.5 0 0 1 0 7zM1246.5 375.1a3.5 3.5 0 0 1 0 7zM1259.5 380.3a3.5 3.5 0 0 1 0 7zM1272.5 384.3a3.5 3.5 0 0 1 0 7zM1285.5 386.7a3.5 3.5 0 0 1 0 7zM1298.5 388.1a3.5 3.5 0 0 1 0 7zM1311.5 388.8a3.5 3.5 0 0 1 0 7zM1324.5 388.8a3.5 3.5 0 0 1 0 7zM1337.5 388.2a3.5 3.5 0 0 1 0 7zM1350.5 387.1a3.5 3.5 0 0 1 0 7zM1363.5 384.8a3.5 3.5 0 0 1 0 7zM1376.5 382a3.5 3.5 0 0 1 0 7zM1389.5 379.5a3.5 3.5 0 0 1 0 7zM1402.5 376.9a3.5 3.5 0 0 1 0 7zM1415.5 373.9a3.5 3.5 0 0 1 0 7zM1428.5 370.8a3.5 3.5 0 0 1 0 7zM1441.5 368.5a3.5 3.5 0 0 1 0 7zM1454.5 367.2a3.5 3.5 0 0 1 0 7zM1467.5 366.5a3.5 3.5 0 0 1 0 7zM1480.5 366.3a3.5 3.5 0 0 1 0 7zM1493.5 366.4a3.5 3.5 0 0 1 0 7zM1506.5 366.6a3.5 3.5 0 0 1 0 7zM1519.5 366.9a3.5 3.5 0 0 1 0 7zM1532.5 367.4a3.5 3.5 0 0 1 0 7zM1545.5 367.8a3.5 3.5 0 0 1 0 7zM1558.5 368a3.5 3.5 0 0 1 0 7zM1571.5 368.1a3.5 3.5 0 0 1 0 7zM1584.5 368.4a3.5 3.5 0 0 1 0 7zM1597.5 368.5a3.5 3.5 0 0 1 0 7zM1610.5 368.1a3.5 3.5 0 0 1 0 7z"/>
<polyline fill="none" stroke="#6CA119" stroke-width="2.5" stroke-linejoin="round" stroke-linecap="round" points="1090.5,86 1093.8,101.6 1097,116.5 1100.2,130.8 1103.5,144.4 1106.8,157.4 1110,169.7 1113.2,181.4 1116.5,192.5 1119.8,203 1123,213 1126.2,222.5 1129.5,231.5 1132.8,240.1 1136,248.4 1139.2,256.3 1142.5,263.8 1145.8,271 1149,277.9 1152.2,284.5 1155.5,290.9 1158.8,297 1162,302.9 1165.2,308.4 1168.5,313.6 1171.8,318.4 1175,323 1178.2,327.3 1181.5,331.4 1184.8,335.4 1188,339.3 1191.2,343 1194.5,346.4 1197.8,349.6 1201,352.4 1204.2,355.1 1207.5,357.5 1210.8,359.7 1214,361.8 1217.2,363.7 1220.5,365.5 1223.8,367.3 1227,369 1230.2,370.6 1233.5,372.3 1236.8,373.9 1240,375.5 1243.2,377.1 1246.5,378.6 1249.8,380 1253,381.3 1256.2,382.6 1259.5,383.8 1262.8,384.9 1266,386 1269.2,386.9 1272.5,387.8 1275.8,388.5 1279,389.2 1282.2,389.7 1285.5,390.2 1288.8,390.6 1292,391 1295.2,391.3 1298.5,391.6 1301.8,391.8 1305,392 1308.2,392.2 1311.5,392.3 1314.8,392.4 1318,392.4 1321.2,392.4 1324.5,392.3 1327.8,392.2 1331,392.1 1334.2,391.9 1337.5,391.7 1340.8,391.5 1344,391.3 1347.2,391 1350.5,390.6 1353.8,390.1 1357,389.6 1360.2,389 1363.5,388.3 1366.8,387.6 1370,386.9 1373.2,386.2 1376.5,385.5 1379.8,384.8 1383,384.2 1386.2,383.6 1389.5,383 1392.8,382.4 1396,381.7 1399.2,381.1 1402.5,380.4 1405.8,379.7 1409,378.9 1412.2,378.2 1415.5,377.4 1418.8,376.6 1422,375.8 1425.2,375 1428.5,374.3 1431.8,373.6 1435,373 1438.2,372.5 1441.5,372 1444.8,371.6 1448,371.2 1451.2,371 1454.5,370.7 1457.8,370.5 1461,370.3 1464.2,370.1 1467.5,370 1470.8,369.9 1474,369.8 1477.2,369.8 1480.5,369.8 1483.8,369.8 1487,369.8 1490.2,369.9 1493.5,369.9 1496.8,369.9 1500,370 1503.2,370 1506.5,370.1 1509.8,370.1 1513,370.2 1516.2,370.3 1519.5,370.4 1522.8,370.5 1526,370.6 1529.2,370.8 1532.5,370.9 1535.8,371 1539,371.1 1542.2,371.2 1545.5,371.3 1548.8,371.4 1552,371.4 1555.2,371.4 1558.5,371.5 1561.8,371.5 1565,371.5 1568.2,371.6 1571.5,371.6 1574.8,371.7 1578,371.7 1581.2,371.8 1584.5,371.9 1587.8,371.9 1591,372 1594.2,372 1597.5,372 1600.8,372 1604,371.9 1607.2,371.8 1610.5,371.6"/>
<g fill="#fff" fill-opacity="0.35" stroke="#D60505" stroke-opacity="0.8" stroke-width="0.9"><circle cx="1090.5" cy="212" r="3.1"/><circle cx="1103.5" cy="271.6" r="3.1"/><circle cx="1116.5" cy="320.6" r="3.1"/><circle cx="1129.5" cy="359.4" r="3.1"/><circle cx="1142.5" cy="391.3" r="3.1"/><circle cx="1155.5" cy="416" r="3.1"/><circle cx="1168.5" cy="435.9" r="3.1"/><circle cx="1181.5" cy="450.8" r="3.1"/><circle cx="1194.5" cy="461.8" r="3.1"/><circle cx="1207.5" cy="469.1" r="3.1"/><circle cx="1220.5" cy="472.3" r="3.1"/><circle cx="1233.5" cy="474.4" r="3.1"/><circle cx="1246.5" cy="475.6" r="3.1"/><circle cx="1259.5" cy="475.6" r="3.1"/><circle cx="1272.5" cy="474.4" r="3.1"/><circle cx="1285.5" cy="472.3" r="3.1"/><circle cx="1298.5" cy="469.5" r="3.1"/><circle cx="1311.5" cy="466.1" r="3.1"/><circle cx="1324.5" cy="461.8" r="3.1"/><circle cx="1337.5" cy="457.8" r="3.1"/><circle cx="1350.5" cy="452.5" r="3.1"/><circle cx="1363.5" cy="446.2" r="3.1"/><circle cx="1376.5" cy="440" r="3.1"/><circle cx="1389.5" cy="435" r="3.1"/><circle cx="1402.5" cy="429.3" r="3.1"/><circle cx="1415.5" cy="424.1" r="3.1"/><circle cx="1428.5" cy="418.5" r="3.1"/><circle cx="1441.5" cy="411.5" r="3.1"/><circle cx="1454.5" cy="404.8" r="3.1"/><circle cx="1467.5" cy="398.7" r="3.1"/><circle cx="1480.5" cy="393.5" r="3.1"/><circle cx="1493.5" cy="388.2" r="3.1"/><circle cx="1506.5" cy="383.5" r="3.1"/><circle cx="1519.5" cy="380" r="3.1"/><circle cx="1532.5" cy="377.4" r="3.1"/><circle cx="1545.5" cy="376" r="3.1"/><circle cx="1558.5" cy="375.5" r="3.1"/><circle cx="1571.5" cy="375.5" r="3.1"/><circle cx="1584.5" cy="376" r="3.1"/><circle cx="1597.5" cy="376.9" r="3.1"/><circle cx="1610.5" cy="379" r="3.1"/></g>
<path fill="#D60505" d="M1090.5 208.5a3.5 3.5 0 0 0 0 7zM1103.5 268.1a3.5 3.5 0 0 0 0 7zM1116.5 317.1a3.5 3.5 0 0 0 0 7zM1129.5 355.9a3.5 3.5 0 0 0 0 7zM1142.5 387.8a3.5 3.5 0 0 0 0 7zM1155.5 412.5a3.5 3.5 0 0 0 0 7zM1168.5 432.4a3.5 3.5 0 0 0 0 7zM1181.5 447.3a3.5 3.5 0 0 0 0 7zM1194.5 458.3a3.5 3.5 0 0 0 0 7zM1207.5 465.6a3.5 3.5 0 0 0 0 7zM1220.5 468.8a3.5 3.5 0 0 0 0 7zM1233.5 470.9a3.5 3.5 0 0 0 0 7zM1246.5 472.1a3.5 3.5 0 0 0 0 7zM1259.5 472.1a3.5 3.5 0 0 0 0 7zM1272.5 470.9a3.5 3.5 0 0 0 0 7zM1285.5 468.8a3.5 3.5 0 0 0 0 7zM1298.5 466a3.5 3.5 0 0 0 0 7zM1311.5 462.6a3.5 3.5 0 0 0 0 7zM1324.5 458.3a3.5 3.5 0 0 0 0 7zM1337.5 454.3a3.5 3.5 0 0 0 0 7zM1350.5 449a3.5 3.5 0 0 0 0 7zM1363.5 442.7a3.5 3.5 0 0 0 0 7zM1376.5 436.5a3.5 3.5 0 0 0 0 7zM1389.5 431.5a3.5 3.5 0 0 0 0 7zM1402.5 425.8a3.5 3.5 0 0 0 0 7zM1415.5 420.6a3.5 3.5 0 0 0 0 7zM1428.5 415a3.5 3.5 0 0 0 0 7zM1441.5 408a3.5 3.5 0 0 0 0 7zM1454.5 401.3a3.5 3.5 0 0 0 0 7zM1467.5 395.2a3.5 3.5 0 0 0 0 7zM1480.5 390a3.5 3.5 0 0 0 0 7zM1493.5 384.7a3.5 3.5 0 0 0 0 7zM1506.5 380a3.5 3.5 0 0 0 0 7zM1519.5 376.5a3.5 3.5 0 0 0 0 7zM1532.5 373.9a3.5 3.5 0 0 0 0 7zM1545.5 372.5a3.5 3.5 0 0 0 0 7zM1558.5 372a3.5 3.5 0 0 0 0 7zM1571.5 372a3.5 3.5 0 0 0 0 7zM1584.5 372.5a3.5 3.5 0 0 0 0 7zM1597.5 373.4a3.5 3.5 0 0 0 0 7zM1610.5 375.5a3.5 3.5 0 0 0 0 7z"/>
<polyline fill="none" stroke="#D60505" stroke-width="2.5" stroke-linejoin="round" stroke-linecap="round" points="1090.5,212 1093.8,227.9 1097,243.1 1100.2,257.7 1103.5,271.6 1106.8,284.9 1110,297.5 1113.2,309.4 1116.5,320.6 1119.8,331.1 1123,341 1126.2,350.4 1129.5,359.4 1132.8,368 1136,376.2 1139.2,384 1142.5,391.3 1145.8,398.1 1149,404.4 1152.2,410.4 1155.5,416 1158.8,421.4 1162,426.5 1165.2,431.4 1168.5,435.9 1171.8,440.1 1175,443.9 1178.2,447.5 1181.5,450.8 1184.8,453.9 1188,456.7 1191.2,459.4 1194.5,461.8 1197.8,464 1201,466 1204.2,467.7 1207.5,469.1 1210.8,470.2 1214,471 1217.2,471.7 1220.5,472.3 1223.8,472.9 1227,473.4 1230.2,473.9 1233.5,474.4 1236.8,474.8 1240,475.1 1243.2,475.4 1246.5,475.6 1249.8,475.7 1253,475.8 1256.2,475.7 1259.5,475.6 1262.8,475.4 1266,475.1 1269.2,474.8 1272.5,474.4 1275.8,474 1279,473.5 1282.2,472.9 1285.5,472.3 1288.8,471.7 1292,471 1295.2,470.2 1298.5,469.5 1301.8,468.7 1305,467.9 1308.2,467.1 1311.5,466.1 1314.8,465.1 1318,464 1321.2,462.9 1324.5,461.8 1327.8,460.8 1331,459.8 1334.2,458.9 1337.5,457.8 1340.8,456.6 1344,455.3 1347.2,454 1350.5,452.5 1353.8,451 1357,449.4 1360.2,447.8 1363.5,446.2 1366.8,444.6 1370,443 1373.2,441.4 1376.5,440 1379.8,438.7 1383,437.5 1386.2,436.3 1389.5,435 1392.8,433.6 1396,432.2 1399.2,430.7 1402.5,429.3 1405.8,427.9 1409,426.6 1412.2,425.4 1415.5,424.1 1418.8,422.8 1422,421.5 1425.2,420 1428.5,418.5 1431.8,416.8 1435,415.1 1438.2,413.3 1441.5,411.5 1444.8,409.8 1448,408.1 1451.2,406.4 1454.5,404.8 1457.8,403.2 1461,401.6 1464.2,400.1 1467.5,398.7 1470.8,397.3 1474,396.1 1477.2,394.8 1480.5,393.5 1483.8,392.2 1487,390.8 1490.2,389.5 1493.5,388.2 1496.8,386.9 1500,385.7 1503.2,384.6 1506.5,383.5 1509.8,382.5 1513,381.6 1516.2,380.8 1519.5,380 1522.8,379.3 1526,378.6 1529.2,377.9 1532.5,377.4 1535.8,376.9 1539,376.6 1542.2,376.2 1545.5,376 1548.8,375.8 1552,375.7 1555.2,375.6 1558.5,375.5 1561.8,375.5 1565,375.4 1568.2,375.5 1571.5,375.5 1574.8,375.6 1578,375.7 1581.2,375.8 1584.5,376 1587.8,376.2 1591,376.4 1594.2,376.6 1597.5,376.9 1600.8,377.3 1604,377.7 1607.2,378.3 1610.5,379"/>
<g fill="#fff" fill-opacity="0.35" stroke="#FA8208" stroke-opacity="0.8" stroke-width="0.9"><circle cx="1090.5" cy="60.5" r="3.1"/><circle cx="1103.5" cy="120" r="3.1"/><circle cx="1116.5" cy="167.7" r="3.1"/><circle cx="1129.5" cy="203.8" r="3.1"/><circle cx="1142.5" cy="231.5" r="3.1"/><circle cx="1155.5" cy="253.3" r="3.1"/><circle cx="1168.5" cy="272.5" r="3.1"/><circle cx="1181.5" cy="286.8" r="3.1"/><circle cx="1194.5" cy="297.3" r="3.1"/><circle cx="1207.5" cy="304.3" r="3.1"/><circle cx="1220.5" cy="306.6" r="3.1"/><circle cx="1233.5" cy="311" r="3.1"/><circle cx="1246.5" cy="314.4" r="3.1"/><circle cx="1259.5" cy="316.6" r="3.1"/><circle cx="1272.5" cy="320.6" r="3.1"/><circle cx="1285.5" cy="328.4" r="3.1"/><circle cx="1298.5" cy="334.9" r="3.1"/><circle cx="1311.5" cy="341.5" r="3.1"/><circle cx="1324.5" cy="347.7" r="3.1"/><circle cx="1337.5" cy="352.5" r="3.1"/><circle cx="1350.5" cy="356.9" r="3.1"/><circle cx="1363.5" cy="361.8" r="3.1"/><circle cx="1376.5" cy="365.8" r="3.1"/><circle cx="1389.5" cy="368.5" r="3.1"/><circle cx="1402.5" cy="370.4" r="3.1"/><circle cx="1415.5" cy="371.6" r="3.1"/><circle cx="1428.5" cy="372.2" r="3.1"/><circle cx="1441.5" cy="372.3" r="3.1"/><circle cx="1454.5" cy="372.5" r="3.1"/><circle cx="1467.5" cy="373" r="3.1"/><circle cx="1480.5" cy="373.7" r="3.1"/><circle cx="1493.5" cy="374.3" r="3.1"/><circle cx="1506.5" cy="374.6" r="3.1"/><circle cx="1519.5" cy="374.3" r="3.1"/><circle cx="1532.5" cy="372.5" r="3.1"/><circle cx="1545.5" cy="369" r="3.1"/><circle cx="1558.5" cy="364.7" r="3.1"/><circle cx="1571.5" cy="360.3" r="3.1"/><circle cx="1584.5" cy="356.4" r="3.1"/><circle cx="1597.5" cy="353.3" r="3.1"/><circle cx="1610.5" cy="351" r="3.1"/></g>
<path fill="#FA8208" d="M1087 60.5a3.5 3.5 0 0 0 7 0zM1100 120a3.5 3.5 0 0 0 7 0zM1113 167.7a3.5 3.5 0 0 0 7 0zM1126 203.8a3.5 3.5 0 0 0 7 0zM1139 231.5a3.5 3.5 0 0 0 7 0zM1152 253.3a3.5 3.5 0 0 0 7 0zM1165 272.5a3.5 3.5 0 0 0 7 0zM1178 286.8a3.5 3.5 0 0 0 7 0zM1191 297.3a3.5 3.5 0 0 0 7 0zM1204 304.3a3.5 3.5 0 0 0 7 0zM1217 306.6a3.5 3.5 0 0 0 7 0zM1230 311a3.5 3.5 0 0 0 7 0zM1243 314.4a3.5 3.5 0 0 0 7 0zM1256 316.6a3.5 3.5 0 0 0 7 0zM1269 320.6a3.5 3.5 0 0 0 7 0zM1282 328.4a3.5 3.5 0 0 0 7 0zM1295 334.9a3.5 3.5 0 0 0 7 0zM1308 341.5a3.5 3.5 0 0 0 7 0zM1321 347.7a3.5 3.5 0 0 0 7 0zM1334 352.5a3.5 3.5 0 0 0 7 0zM1347 356.9a3.5 3.5 0 0 0 7 0zM1360 361.8a3.5 3.5 0 0 0 7 0zM1373 365.8a3.5 3.5 0 0 0 7 0zM1386 368.5a3.5 3.5 0 0 0 7 0zM1399 370.4a3.5 3.5 0 0 0 7 0zM1412 371.6a3.5 3.5 0 0 0 7 0zM1425 372.2a3.5 3.5 0 0 0 7 0zM1438 372.3a3.5 3.5 0 0 0 7 0zM1451 372.5a3.5 3.5 0 0 0 7 0zM1464 373a3.5 3.5 0 0 0 7 0zM1477 373.7a3.5 3.5 0 0 0 7 0zM1490 374.3a3.5 3.5 0 0 0 7 0zM1503 374.6a3.5 3.5 0 0 0 7 0zM1516 374.3a3.5 3.5 0 0 0 7 0zM1529 372.5a3.5 3.5 0 0 0 7 0zM1542 369a3.5 3.5 0 0 0 7 0zM1555 364.7a3.5 3.5 0 0 0 7 0zM1568 360.3a3.5 3.5 0 0 0 7 0zM1581 356.4a3.5 3.5 0 0 0 7 0zM1594 353.3a3.5 3.5 0 0 0 7 0zM1607 351a3.5 3.5 0 0 0 7 0z"/>
<polyline fill="none" stroke="#FA8208" stroke-width="2.5" stroke-linejoin="round" stroke-linecap="round" points="1090.5,60.5 1093.8,76.4 1097,91.7 1100.2,106.2 1103.5,120 1106.8,133.1 1110,145.4 1113.2,156.9 1116.5,167.7 1119.8,177.7 1123,187 1126.2,195.7 1129.5,203.8 1132.8,211.4 1136,218.6 1139.2,225.2 1142.5,231.5 1145.8,237.3 1149,242.9 1152.2,248.1 1155.5,253.3 1158.8,258.4 1162,263.3 1165.2,268.1 1168.5,272.5 1171.8,276.5 1175,280.2 1178.2,283.6 1181.5,286.8 1184.8,289.8 1188,292.5 1191.2,295 1194.5,297.3 1197.8,299.3 1201,301.2 1204.2,302.8 1207.5,304.3 1210.8,305.7 1214,307 1217.2,308.1 1220.5,309.2 1223.8,310.2 1227,311.1 1230.2,311.9 1233.5,312.7 1236.8,313.5 1240,314.2 1243.2,315 1246.5,315.8 1249.8,316.6 1253,317.4 1256.2,318.3 1259.5,319.2 1262.8,320.1 1266,321.1 1269.2,322.1 1272.5,323.2 1275.8,324.4 1279,325.6 1282.2,327 1285.5,328.4 1288.8,329.9 1292,331.6 1295.2,333.2 1298.5,334.9 1301.8,336.6 1305,338.2 1308.2,339.9 1311.5,341.5 1314.8,343.1 1318,344.7 1321.2,346.3 1324.5,347.7 1327.8,349 1331,350.2 1334.2,351.4 1337.5,352.5 1340.8,353.6 1344,354.7 1347.2,355.8 1350.5,356.9 1353.8,358.1 1357,359.4 1360.2,360.6 1363.5,361.8 1366.8,362.9 1370,364 1373.2,364.9 1376.5,365.8 1379.8,366.6 1383,367.3 1386.2,367.9 1389.5,368.5 1392.8,369 1396,369.5 1399.2,370 1402.5,370.4 1405.8,370.8 1409,371.1 1412.2,371.4 1415.5,371.6 1418.8,371.8 1422,372 1425.2,372.1 1428.5,372.2 1431.8,372.3 1435,372.3 1438.2,372.3 1441.5,372.3 1444.8,372.3 1448,372.4 1451.2,372.4 1454.5,372.5 1457.8,372.6 1461,372.7 1464.2,372.8 1467.5,373 1470.8,373.2 1474,373.3 1477.2,373.5 1480.5,373.7 1483.8,373.9 1487,374 1490.2,374.2 1493.5,374.3 1496.8,374.4 1500,374.5 1503.2,374.6 1506.5,374.6 1509.8,374.6 1513,374.6 1516.2,374.5 1519.5,374.3 1522.8,374 1526,373.6 1529.2,373.1 1532.5,372.5 1535.8,371.8 1539,370.9 1542.2,370 1545.5,369 1548.8,368 1552,366.9 1555.2,365.8 1558.5,364.7 1561.8,363.6 1565,362.5 1568.2,361.4 1571.5,360.3 1574.8,359.3 1578,358.3 1581.2,357.3 1584.5,356.4 1587.8,355.5 1591,354.7 1594.2,354 1597.5,353.3 1600.8,352.7 1604,352.1 1607.2,351.5 1610.5,351"/>
<g fill="#fff" fill-opacity="0.35" stroke="#378FCB" stroke-opacity="0.8" stroke-width="0.9"><circle cx="1090.5" cy="51.8" r="3.1"/><circle cx="1103.5" cy="108.2" r="3.1"/><circle cx="1116.5" cy="155.4" r="3.1"/><circle cx="1129.5" cy="193" r="3.1"/><circle cx="1142.5" cy="222.8" r="3.1"/><circle cx="1155.5" cy="247.2" r="3.1"/><circle cx="1168.5" cy="267.3" r="3.1"/><circle cx="1181.5" cy="283.5" r="3.1"/><circle cx="1194.5" cy="297" r="3.1"/><circle cx="1207.5" cy="309.2" r="3.1"/><circle cx="1220.5" cy="314.5" r="3.1"/><circle cx="1233.5" cy="320.6" r="3.1"/><circle cx="1246.5" cy="326.2" r="3.1"/><circle cx="1259.5" cy="331.4" r="3.1"/><circle cx="1272.5" cy="336.6" r="3.1"/><circle cx="1285.5" cy="341.2" r="3.1"/><circle cx="1298.5" cy="345.4" r="3.1"/><circle cx="1311.5" cy="349" r="3.1"/><circle cx="1324.5" cy="352.3" r="3.1"/><circle cx="1337.5" cy="354.9" r="3.1"/><circle cx="1350.5" cy="357" r="3.1"/><circle cx="1363.5" cy="358.8" r="3.1"/><circle cx="1376.5" cy="360.6" r="3.1"/><circle cx="1389.5" cy="362.4" r="3.1"/><circle cx="1402.5" cy="363.8" r="3.1"/><circle cx="1415.5" cy="364.7" r="3.1"/><circle cx="1428.5" cy="365.5" r="3.1"/><circle cx="1441.5" cy="366" r="3.1"/><circle cx="1454.5" cy="366.3" r="3.1"/><circle cx="1467.5" cy="366.6" r="3.1"/><circle cx="1480.5" cy="366.8" r="3.1"/><circle cx="1493.5" cy="366.9" r="3.1"/><circle cx="1506.5" cy="367.1" r="3.1"/><circle cx="1519.5" cy="367.3" r="3.1"/><circle cx="1532.5" cy="367.6" r="3.1"/><circle cx="1545.5" cy="367.8" r="3.1"/><circle cx="1558.5" cy="368" r="3.1"/><circle cx="1571.5" cy="368.1" r="3.1"/><circle cx="1584.5" cy="368.3" r="3.1"/><circle cx="1597.5" cy="368.5" r="3.1"/><circle cx="1610.5" cy="368.6" r="3.1"/></g>
<path fill="#378FCB" d="M1087 51.8a3.5 3.5 0 0 1 7 0zM1100 108.2a3.5 3.5 0 0 1 7 0zM1113 155.4a3.5 3.5 0 0 1 7 0zM1126 193a3.5 3.5 0 0 1 7 0zM1139 222.8a3.5 3.5 0 0 1 7 0zM1152 247.2a3.5 3.5 0 0 1 7 0zM1165 267.3a3.5 3.5 0 0 1 7 0zM1178 283.5a3.5 3.5 0 0 1 7 0zM1191 297a3.5 3.5 0 0 1 7 0zM1204 309.2a3.5 3.5 0 0 1 7 0zM1217 314.5a3.5 3.5 0 0 1 7 0zM1230 320.6a3.5 3.5 0 0 1 7 0zM1243 326.2a3.5 3.5 0 0 1 7 0zM1256 331.4a3.5 3.5 0 0 1 7 0zM1269 336.6a3.5 3.5 0 0 1 7 0zM1282 341.2a3.5 3.5 0 0 1 7 0zM1295 345.4a3.5 3.5 0 0 1 7 0zM1308 349a3.5 3.5 0 0 1 7 0zM1321 352.3a3.5 3.5 0 0 1 7 0zM1334 354.9a3.5 3.5 0 0 1 7 0zM1347 357a3.5 3.5 0 0 1 7 0zM1360 358.8a3.5 3.5 0 0 1 7 0zM1373 360.6a3.5 3.5 0 0 1 7 0zM1386 362.4a3.5 3.5 0 0 1 7 0zM1399 363.8a3.5 3.5 0 0 1 7 0zM1412 364.7a3.5 3.5 0 0 1 7 0zM1425 365.5a3.5 3.5 0 0 1 7 0zM1438 366a3.5 3.5 0 0 1 7 0zM1451 366.3a3.5 3.5 0 0 1 7 0zM1464 366.6a3.5 3.5 0 0 1 7 0zM1477 366.8a3.5 3.5 0 0 1 7 0zM1490 366.9a3.5 3.5 0 0 1 7 0zM1503 367.1a3.5 3.5 0 0 1 7 0zM1516 367.3a3.5 3.5 0 0 1 7 0zM1529 367.6a3.5 3.5 0 0 1 7 0zM1542 367.8a3.5 3.5 0 0 1 7 0zM1555 368a3.5 3.5 0 0 1 7 0zM1568 368.1a3.5 3.5 0 0 1 7 0zM1581 368.3a3.5 3.5 0 0 1 7 0zM1594 368.5a3.5 3.5 0 0 1 7 0zM1607 368.6a3.5 3.5 0 0 1 7 0z"/>
<polyline fill="none" stroke="#378FCB" stroke-width="2.5" stroke-linejoin="round" stroke-linecap="round" points="1090.5,51.8 1093.8,66.7 1097,81.1 1100.2,94.9 1103.5,108.2 1106.8,120.9 1110,133 1113.2,144.5 1116.5,155.4 1119.8,165.7 1123,175.3 1126.2,184.4 1129.5,193 1132.8,201.1 1136,208.7 1139.2,215.9 1142.5,222.8 1145.8,229.3 1149,235.6 1152.2,241.5 1155.5,247.2 1158.8,252.6 1162,257.8 1165.2,262.7 1168.5,267.3 1171.8,271.7 1175,275.8 1178.2,279.7 1181.5,283.5 1184.8,287.2 1188,290.6 1191.2,293.9 1194.5,297 1197.8,299.8 1201,302.3 1204.2,304.7 1207.5,306.9 1210.8,309 1214,310.9 1217.2,312.8 1220.5,314.5 1223.8,316.1 1227,317.7 1230.2,319.2 1233.5,320.6 1236.8,322 1240,323.5 1243.2,324.8 1246.5,326.2 1249.8,327.5 1253,328.8 1256.2,330.1 1259.5,331.4 1262.8,332.7 1266,334 1269.2,335.3 1272.5,336.6 1275.8,337.8 1279,339 1282.2,340.1 1285.5,341.2 1288.8,342.3 1292,343.4 1295.2,344.4 1298.5,345.4 1301.8,346.3 1305,347.3 1308.2,348.1 1311.5,349 1314.8,349.9 1318,350.7 1321.2,351.5 1324.5,352.3 1327.8,353 1331,353.7 1334.2,354.3 1337.5,354.9 1340.8,355.5 1344,356 1347.2,356.5 1350.5,357 1353.8,357.5 1357,357.9 1360.2,358.4 1363.5,358.8 1366.8,359.2 1370,359.7 1373.2,360.1 1376.5,360.6 1379.8,361.1 1383,361.5 1386.2,362 1389.5,362.4 1392.8,362.8 1396,363.2 1399.2,363.5 1402.5,363.8 1405.8,364.1 1409,364.3 1412.2,364.5 1415.5,364.7 1418.8,364.9 1422,365.1 1425.2,365.3 1428.5,365.5 1431.8,365.7 1435,365.8 1438.2,365.9 1441.5,366 1444.8,366.1 1448,366.2 1451.2,366.3 1454.5,366.3 1457.8,366.4 1461,366.5 1464.2,366.5 1467.5,366.6 1470.8,366.6 1474,366.7 1477.2,366.7 1480.5,366.8 1483.8,366.8 1487,366.8 1490.2,366.9 1493.5,366.9 1496.8,366.9 1500,367 1503.2,367 1506.5,367.1 1509.8,367.1 1513,367.2 1516.2,367.2 1519.5,367.3 1522.8,367.4 1526,367.4 1529.2,367.5 1532.5,367.6 1535.8,367.6 1539,367.7 1542.2,367.7 1545.5,367.8 1548.8,367.8 1552,367.9 1555.2,367.9 1558.5,368 1561.8,368 1565,368 1568.2,368.1 1571.5,368.1 1574.8,368.1 1578,368.2 1581.2,368.2 1584.5,368.3 1587.8,368.4 1591,368.4 1594.2,368.5 1597.5,368.5 1600.8,368.5 1604,368.6 1607.2,368.6 1610.5,368.6"/>
<g stroke="#000" stroke-width="2" fill="none">
<rect x="999.5" y="12.5" width="715" height="546.8"/>
<path d="M999.5 559.3v10.3M1064.5 559.3v6M1129.5 559.3v10.3M1194.5 559.3v6M1259.5 559.3v10.3M1324.5 559.3v6M1389.5 559.3v10.3M1454.5 559.3v6M1519.5 559.3v10.3M1584.5 559.3v6M1649.5 559.3v10.3M1714.5 559.3v6M999.5 559.3h-5.5M999.5 528.9h-10.4M999.5 498.5h-5.5M999.5 468.2h-10.4M999.5 437.8h-5.5M999.5 407.4h-10.4M999.5 377h-5.5M999.5 346.7h-10.4M999.5 316.3h-5.5M999.5 285.9h-10.4M999.5 255.5h-5.5M999.5 225.1h-10.4M999.5 194.8h-5.5M999.5 164.4h-10.4M999.5 134h-5.5M999.5 103.6h-10.4M999.5 73.3h-5.5M999.5 42.9h-10.4M999.5 12.5h-5.5"/>
</g>
<g font-size="30" text-anchor="middle">
<text transform="translate(999.5 599.9) scale(1 1.03)">1.5</text>
<text transform="translate(1129.5 599.9) scale(1 1.03)">2.0</text>
<text transform="translate(1259.5 599.9) scale(1 1.03)">2.5</text>
<text transform="translate(1389.5 599.9) scale(1 1.03)">3.0</text>
<text transform="translate(1519.5 599.9) scale(1 1.03)">3.5</text>
<text transform="translate(1649.5 599.9) scale(1 1.03)">4.0</text>
</g>
<g font-size="30" text-anchor="end">
<text transform="translate(981.9 538) scale(1 1.03)">0</text>
<text transform="translate(981.9 477.3) scale(1 1.03)">10000</text>
<text transform="translate(981.9 416.5) scale(1 1.03)">20000</text>
<text transform="translate(981.9 355.8) scale(1 1.03)">30000</text>
<text transform="translate(981.9 295) scale(1 1.03)">40000</text>
<text transform="translate(981.9 234.2) scale(1 1.03)">50000</text>
<text transform="translate(981.9 173.5) scale(1 1.03)">60000</text>
<text transform="translate(981.9 112.7) scale(1 1.03)">70000</text>
<text transform="translate(981.9 52) scale(1 1.03)">80000</text>
</g>
<text x="1355.9" y="652.6" font-size="35" text-anchor="middle"><tspan font-style="italic">R</tspan> (Å)</text>
<text transform="translate(895.7 284.3) rotate(-90) scale(1 0.94)" font-size="34.6" text-anchor="middle">Potential energy (cm<tspan dy="-14.2" font-size="22">-1</tspan><tspan dy="14.2">)</tspan></text>
<text transform="translate(1297.4 56.4) scale(1 1.04)" font-size="34.4">(b) PbCl</text>
<g fill="#fff" fill-opacity="0.35" stroke="#FA8208" stroke-opacity="0.8" stroke-width="0.9"><circle cx="1555.1" cy="62.6" r="3.1"/></g>
<path fill="#FA8208" d="M1551.6 62.6a3.5 3.5 0 0 0 7 0z"/>
<text transform="translate(1590.7 74.1) scale(1 0.92)" font-size="35"><tspan dx="0" dy="0" font-size="35">C</tspan><tspan dx="-2.1" dy="9.1" font-size="22">1</tspan><tspan dx="0.4" dy="-24.3" font-size="22">2</tspan><tspan dx="-0.3" dy="15.2" font-size="35" textLength="25" lengthAdjust="spacingAndGlyphs">Π</tspan><tspan dx="-0.5" dy="9.1" font-size="22">3/2</tspan></text>
<g fill="#fff" fill-opacity="0.35" stroke="#378FCB" stroke-opacity="0.8" stroke-width="0.9"><circle cx="1555.1" cy="116.1" r="3.1"/></g>
<path fill="#378FCB" d="M1551.6 116.1a3.5 3.5 0 0 1 7 0z"/>
<text transform="translate(1590.7 127.6) scale(1 0.92)" font-size="35"><tspan dx="0" dy="0" font-size="35">B</tspan><tspan dx="-1" dy="-15.2" font-size="22">2</tspan><tspan dx="-0.3" dy="15.2" font-size="35">Σ</tspan><tspan dx="-2.6" dy="9.1" font-size="22">1/2</tspan></text>
<g fill="#fff" fill-opacity="0.35" stroke="#6CA119" stroke-opacity="0.8" stroke-width="0.9"><circle cx="1555.1" cy="169.6" r="3.1"/></g>
<path fill="#6CA119" d="M1555.1 166.1a3.5 3.5 0 0 1 0 7z"/>
<text transform="translate(1590.7 181.1) scale(1 0.92)" font-size="35"><tspan dx="0" dy="0" font-size="35">A</tspan><tspan dx="-1" dy="-15.2" font-size="22">2</tspan><tspan dx="-0.3" dy="15.2" font-size="35">Σ</tspan><tspan dx="-2.6" dy="9.1" font-size="22">1/2</tspan></text>
<g fill="#fff" fill-opacity="0.35" stroke="#D60505" stroke-opacity="0.8" stroke-width="0.9"><circle cx="1555.1" cy="223.1" r="3.1"/></g>
<path fill="#D60505" d="M1555.1 219.6a3.5 3.5 0 0 0 0 7z"/>
<text transform="translate(1590.7 234.6) scale(1 0.92)" font-size="35"><tspan dx="0" dy="0" font-size="35">X</tspan><tspan dx="-2.1" dy="9.1" font-size="22">2</tspan><tspan dx="0.4" dy="-24.3" font-size="22">2</tspan><tspan dx="-0.3" dy="15.2" font-size="35" textLength="25" lengthAdjust="spacingAndGlyphs">Π</tspan><tspan dx="-0.5" dy="9.1" font-size="22">3/2</tspan></text>
<g fill="#0A00A6"><circle cx="1555.1" cy="276.6" r="3.4"/></g>
<text transform="translate(1590.7 288.1) scale(1 0.92)" font-size="35"><tspan dx="0" dy="0" font-size="35">X</tspan><tspan dx="-2.1" dy="9.1" font-size="22">1</tspan><tspan dx="0.4" dy="-24.3" font-size="22">2</tspan><tspan dx="-0.3" dy="15.2" font-size="35" textLength="25" lengthAdjust="spacingAndGlyphs">Π</tspan><tspan dx="-0.5" dy="9.1" font-size="22">1/2</tspan></text>
</g>
<g id="panel-c">
<g fill="#0A00A6"><circle cx="208" cy="931.3" r="3.4"/><circle cx="222.3" cy="984.9" r="3.4"/><circle cx="236.6" cy="1029.5" r="3.4"/><circle cx="250.9" cy="1066.8" r="3.4"/><circle cx="265.2" cy="1096.3" r="3.4"/><circle cx="279.5" cy="1120.1" r="3.4"/><circle cx="293.8" cy="1138.8" r="3.4"/><circle cx="308.1" cy="1153.3" r="3.4"/><circle cx="322.4" cy="1164.5" r="3.4"/><circle cx="336.7" cy="1172.9" r="3.4"/><circle cx="351" cy="1178.8" r="3.4"/><circle cx="365.3" cy="1182.6" r="3.4"/><circle cx="379.6" cy="1184.8" r="3.4"/><circle cx="393.9" cy="1185.4" r="3.4"/><circle cx="408.2" cy="1184.8" r="3.4"/><circle cx="422.5" cy="1183.1" r="3.4"/><circle cx="436.8" cy="1180.7" r="3.4"/><circle cx="451.1" cy="1177.5" r="3.4"/><circle cx="465.4" cy="1173.8" r="3.4"/><circle cx="479.7" cy="1169.9" r="3.4"/><circle cx="494" cy="1165.8" r="3.4"/><circle cx="508.3" cy="1161.6" r="3.4"/><circle cx="522.6" cy="1157" r="3.4"/><circle cx="536.9" cy="1151.8" r="3.4"/><circle cx="551.2" cy="1146.7" r="3.4"/><circle cx="565.5" cy="1141.6" r="3.4"/><circle cx="579.8" cy="1136.6" r="3.4"/><circle cx="594.1" cy="1131.5" r="3.4"/><circle cx="608.4" cy="1126.5" r="3.4"/><circle cx="622.7" cy="1121.5" r="3.4"/><circle cx="637" cy="1116.7" r="3.4"/><circle cx="651.3" cy="1112.6" r="3.4"/><circle cx="665.6" cy="1108.4" r="3.4"/><circle cx="679.9" cy="1104" r="3.4"/><circle cx="694.2" cy="1099.8" r="3.4"/><circle cx="708.5" cy="1095.7" r="3.4"/><circle cx="722.8" cy="1092" r="3.4"/><circle cx="737.1" cy="1088.3" r="3.4"/><circle cx="751.4" cy="1084.9" r="3.4"/><circle cx="765.7" cy="1082.2" r="3.4"/><circle cx="780" cy="1082.8" r="3.4"/></g>
<polyline fill="none" stroke="#0A00A6" stroke-width="2.5" stroke-linejoin="round" stroke-linecap="round" points="208,931.3 211.6,945.7 215.1,959.4 218.7,972.4 222.3,984.9 225.9,996.8 229.5,1008.2 233,1019.1 236.6,1029.5 240.2,1039.5 243.8,1049.1 247.3,1058.2 250.9,1066.8 254.5,1074.9 258,1082.4 261.6,1089.5 265.2,1096.3 268.8,1102.7 272.4,1108.8 275.9,1114.6 279.5,1120.1 283.1,1125.2 286.6,1130 290.2,1134.6 293.8,1138.8 297.4,1142.8 301,1146.5 304.5,1150 308.1,1153.3 311.7,1156.4 315.2,1159.3 318.8,1162 322.4,1164.5 326,1166.8 329.5,1169 333.1,1171 336.7,1172.9 340.3,1174.6 343.9,1176.1 347.4,1177.5 351,1178.8 354.6,1179.9 358.1,1180.9 361.7,1181.8 365.3,1182.6 368.9,1183.3 372.5,1183.9 376,1184.4 379.6,1184.8 383.2,1185.1 386.8,1185.3 390.3,1185.4 393.9,1185.4 397.5,1185.4 401,1185.2 404.6,1185.1 408.2,1184.8 411.8,1184.5 415.4,1184.1 418.9,1183.6 422.5,1183.1 426.1,1182.6 429.6,1182 433.2,1181.4 436.8,1180.7 440.4,1180 444,1179.2 447.5,1178.4 451.1,1177.5 454.7,1176.6 458.2,1175.7 461.8,1174.7 465.4,1173.8 469,1172.8 472.5,1171.9 476.1,1170.9 479.7,1169.9 483.3,1168.9 486.9,1167.9 490.4,1166.8 494,1165.8 497.6,1164.8 501.2,1163.7 504.7,1162.7 508.3,1161.6 511.9,1160.5 515.5,1159.4 519,1158.2 522.6,1157 526.2,1155.7 529.8,1154.4 533.3,1153.1 536.9,1151.8 540.5,1150.5 544,1149.2 547.6,1148 551.2,1146.7 554.8,1145.4 558.4,1144.1 561.9,1142.9 565.5,1141.6 569.1,1140.3 572.7,1139.1 576.2,1137.9 579.8,1136.6 583.4,1135.3 587,1134.1 590.5,1132.8 594.1,1131.5 597.7,1130.2 601.2,1129 604.8,1127.7 608.4,1126.5 612,1125.3 615.5,1124 619.1,1122.8 622.7,1121.5 626.3,1120.3 629.9,1119 633.4,1117.8 637,1116.7 640.6,1115.6 644.2,1114.6 647.7,1113.6 651.3,1112.6 654.9,1111.6 658.5,1110.5 662,1109.5 665.6,1108.4 669.2,1107.3 672.8,1106.2 676.3,1105.1 679.9,1104 683.5,1102.9 687,1101.9 690.6,1100.8 694.2,1099.8 697.8,1098.8 701.4,1097.7 704.9,1096.7 708.5,1095.7 712.1,1094.7 715.7,1093.8 719.2,1092.9 722.8,1092 726.4,1091.1 730,1090.1 733.5,1089.2 737.1,1088.3 740.7,1087.4 744.2,1086.6 747.8,1085.7 751.4,1084.9 755,1084.1 758.5,1083.3 762.1,1082.7 765.7,1082.2 769.3,1081.9 772.9,1081.9 776.4,1082.2 780,1082.8"/>
<g fill="#fff" fill-opacity="0.35" stroke="#6CA119" stroke-opacity="0.8" stroke-width="0.9"><circle cx="208" cy="740.8" r="3.1"/><circle cx="222.3" cy="793.6" r="3.1"/><circle cx="236.6" cy="837.3" r="3.1"/><circle cx="250.9" cy="874" r="3.1"/><circle cx="265.2" cy="904.6" r="3.1"/><circle cx="279.5" cy="930.8" r="3.1"/><circle cx="293.8" cy="952.6" r="3.1"/><circle cx="308.1" cy="970.6" r="3.1"/><circle cx="322.4" cy="986.2" r="3.1"/><circle cx="336.7" cy="998.9" r="3.1"/><circle cx="351" cy="1009.4" r="3.1"/><circle cx="365.3" cy="1017.8" r="3.1"/><circle cx="379.6" cy="1024.2" r="3.1"/><circle cx="393.9" cy="1029.1" r="3.1"/><circle cx="408.2" cy="1033.5" r="3.1"/><circle cx="422.5" cy="1036.5" r="3.1"/><circle cx="436.8" cy="1038.2" r="3.1"/><circle cx="451.1" cy="1039.1" r="3.1"/><circle cx="465.4" cy="1039.1" r="3.1"/><circle cx="479.7" cy="1038.6" r="3.1"/><circle cx="494" cy="1038" r="3.1"/><circle cx="508.3" cy="1036.5" r="3.1"/><circle cx="522.6" cy="1035.1" r="3.1"/><circle cx="536.9" cy="1033.6" r="3.1"/><circle cx="551.2" cy="1032.3" r="3.1"/><circle cx="565.5" cy="1031.3" r="3.1"/><circle cx="579.8" cy="1030.8" r="3.1"/><circle cx="594.1" cy="1030.9" r="3.1"/><circle cx="608.4" cy="1031.7" r="3.1"/><circle cx="622.7" cy="1032.6" r="3.1"/><circle cx="637" cy="1033.7" r="3.1"/><circle cx="651.3" cy="1035.1" r="3.1"/><circle cx="665.6" cy="1036" r="3.1"/><circle cx="679.9" cy="1036.9" r="3.1"/><circle cx="694.2" cy="1037.5" r="3.1"/><circle cx="708.5" cy="1037.8" r="3.1"/><circle cx="722.8" cy="1037.8" r="3.1"/><circle cx="737.1" cy="1037.8" r="3.1"/><circle cx="751.4" cy="1038.2" r="3.1"/><circle cx="765.7" cy="1039.7" r="3.1"/><circle cx="780" cy="1043.4" r="3.1"/></g>
<path fill="#6CA119" d="M208 737.3a3.5 3.5 0 0 1 0 7zM222.3 790.1a3.5 3.5 0 0 1 0 7zM236.6 833.8a3.5 3.5 0 0 1 0 7zM250.9 870.5a3.5 3.5 0 0 1 0 7zM265.2 901.1a3.5 3.5 0 0 1 0 7zM279.5 927.3a3.5 3.5 0 0 1 0 7zM293.8 949.1a3.5 3.5 0 0 1 0 7zM308.1 967.1a3.5 3.5 0 0 1 0 7zM322.4 982.7a3.5 3.5 0 0 1 0 7zM336.7 995.4a3.5 3.5 0 0 1 0 7zM351 1005.9a3.5 3.5 0 0 1 0 7zM365.3 1014.3a3.5 3.5 0 0 1 0 7zM379.6 1020.7a3.5 3.5 0 0 1 0 7zM393.9 1025.6a3.5 3.5 0 0 1 0 7zM408.2 1030a3.5 3.5 0 0 1 0 7zM422.5 1033a3.5 3.5 0 0 1 0 7zM436.8 1034.7a3.5 3.5 0 0 1 0 7zM451.1 1035.6a3.5 3.5 0 0 1 0 7zM465.4 1035.6a3.5 3.5 0 0 1 0 7zM479.7 1035.1a3.5 3.5 0 0 1 0 7zM494 1034.5a3.5 3.5 0 0 1 0 7zM508.3 1033a3.5 3.5 0 0 1 0 7zM522.6 1031.6a3.5 3.5 0 0 1 0 7zM536.9 1030.1a3.5 3.5 0 0 1 0 7zM551.2 1028.8a3.5 3.5 0 0 1 0 7zM565.5 1027.8a3.5 3.5 0 0 1 0 7zM579.8 1027.3a3.5 3.5 0 0 1 0 7zM594.1 1027.4a3.5 3.5 0 0 1 0 7zM608.4 1028.2a3.5 3.5 0 0 1 0 7zM622.7 1029.1a3.5 3.5 0 0 1 0 7zM637 1030.2a3.5 3.5 0 0 1 0 7zM651.3 1031.6a3.5 3.5 0 0 1 0 7zM665.6 1032.5a3.5 3.5 0 0 1 0 7zM679.9 1033.4a3.5 3.5 0 0 1 0 7zM694.2 1034a3.5 3.5 0 0 1 0 7zM708.5 1034.3a3.5 3.5 0 0 1 0 7zM722.8 1034.3a3.5 3.5 0 0 1 0 7zM737.1 1034.3a3.5 3.5 0 0 1 0 7zM751.4 1034.7a3.5 3.5 0 0 1 0 7zM765.7 1036.2a3.5 3.5 0 0 1 0 7zM780 1039.9a3.5 3.5 0 0 1 0 7z"/>
<polyline fill="none" stroke="#6CA119" stroke-width="2.5" stroke-linejoin="round" stroke-linecap="round" points="208,740.8 211.6,755 215.1,768.5 218.7,781.4 222.3,793.6 225.9,805.3 229.5,816.4 233,827.1 236.6,837.3 240.2,847.1 243.8,856.5 247.3,865.4 250.9,874 254.5,882.2 258,889.9 261.6,897.4 265.2,904.6 268.8,911.5 272.4,918.2 275.9,924.7 279.5,930.8 283.1,936.7 286.6,942.2 290.2,947.6 293.8,952.6 297.4,957.4 301,962 304.5,966.4 308.1,970.6 311.7,974.7 315.2,978.7 318.8,982.6 322.4,986.2 326,989.6 329.5,992.9 333.1,996 336.7,998.9 340.3,1001.7 343.9,1004.4 347.4,1007 351,1009.4 354.6,1011.7 358.1,1013.9 361.7,1015.9 365.3,1017.8 368.9,1019.6 372.5,1021.2 376,1022.8 379.6,1024.2 383.2,1025.5 386.8,1026.8 390.3,1027.9 393.9,1029.1 397.5,1030.3 401,1031.4 404.6,1032.5 408.2,1033.5 411.8,1034.4 415.4,1035.2 418.9,1035.9 422.5,1036.5 426.1,1037 429.6,1037.5 433.2,1037.9 436.8,1038.2 440.4,1038.5 444,1038.8 447.5,1039 451.1,1039.1 454.7,1039.2 458.2,1039.2 461.8,1039.2 465.4,1039.1 469,1039 472.5,1038.9 476.1,1038.7 479.7,1038.6 483.3,1038.5 486.9,1038.4 490.4,1038.2 494,1038 497.6,1037.7 501.2,1037.3 504.7,1036.9 508.3,1036.5 511.9,1036.1 515.5,1035.8 519,1035.4 522.6,1035.1 526.2,1034.7 529.8,1034.4 533.3,1034 536.9,1033.6 540.5,1033.2 544,1032.9 547.6,1032.6 551.2,1032.3 554.8,1032 558.4,1031.8 561.9,1031.5 565.5,1031.3 569.1,1031.1 572.7,1031 576.2,1030.9 579.8,1030.8 583.4,1030.8 587,1030.8 590.5,1030.8 594.1,1030.9 597.7,1031.1 601.2,1031.2 604.8,1031.5 608.4,1031.7 612,1031.9 615.5,1032.1 619.1,1032.4 622.7,1032.6 626.3,1032.8 629.9,1033.1 633.4,1033.4 637,1033.7 640.6,1034.1 644.2,1034.4 647.7,1034.8 651.3,1035.1 654.9,1035.4 658.5,1035.6 662,1035.8 665.6,1036 669.2,1036.2 672.8,1036.5 676.3,1036.7 679.9,1036.9 683.5,1037.1 687,1037.2 690.6,1037.4 694.2,1037.5 697.8,1037.6 701.4,1037.7 704.9,1037.8 708.5,1037.8 712.1,1037.8 715.7,1037.8 719.2,1037.8 722.8,1037.8 726.4,1037.8 730,1037.8 733.5,1037.8 737.1,1037.8 740.7,1037.8 744.2,1037.9 747.8,1038 751.4,1038.2 755,1038.4 758.5,1038.7 762.1,1039.2 765.7,1039.7 769.3,1040.4 772.9,1041.2 776.4,1042.2 780,1043.4"/>
<g fill="#fff" fill-opacity="0.35" stroke="#D60505" stroke-opacity="0.8" stroke-width="0.9"><circle cx="208" cy="881.1" r="3.1"/><circle cx="222.3" cy="934.3" r="3.1"/><circle cx="236.6" cy="978.8" r="3.1"/><circle cx="250.9" cy="1014.1" r="3.1"/><circle cx="265.2" cy="1043.5" r="3.1"/><circle cx="279.5" cy="1066.2" r="3.1"/><circle cx="293.8" cy="1084.4" r="3.1"/><circle cx="308.1" cy="1099.3" r="3.1"/><circle cx="322.4" cy="1109.3" r="3.1"/><circle cx="336.7" cy="1116.4" r="3.1"/><circle cx="351" cy="1121.4" r="3.1"/><circle cx="365.3" cy="1124.8" r="3.1"/><circle cx="379.6" cy="1126.1" r="3.1"/><circle cx="393.9" cy="1126.1" r="3.1"/><circle cx="408.2" cy="1124.8" r="3.1"/><circle cx="422.5" cy="1122.6" r="3.1"/><circle cx="436.8" cy="1119.8" r="3.1"/><circle cx="451.1" cy="1116" r="3.1"/><circle cx="465.4" cy="1111.8" r="3.1"/><circle cx="479.7" cy="1107.3" r="3.1"/><circle cx="494" cy="1102.2" r="3.1"/><circle cx="508.3" cy="1096.8" r="3.1"/><circle cx="522.6" cy="1091.2" r="3.1"/><circle cx="536.9" cy="1085.9" r="3.1"/><circle cx="551.2" cy="1080.2" r="3.1"/><circle cx="565.5" cy="1074.9" r="3.1"/><circle cx="579.8" cy="1069.7" r="3.1"/><circle cx="594.1" cy="1064.5" r="3.1"/><circle cx="608.4" cy="1059.5" r="3.1"/><circle cx="622.7" cy="1054.6" r="3.1"/><circle cx="637" cy="1050" r="3.1"/><circle cx="651.3" cy="1046.5" r="3.1"/><circle cx="665.6" cy="1044.5" r="3.1"/><circle cx="679.9" cy="1043.6" r="3.1"/><circle cx="694.2" cy="1043.6" r="3.1"/><circle cx="708.5" cy="1044.3" r="3.1"/><circle cx="722.8" cy="1046" r="3.1"/><circle cx="737.1" cy="1045.6" r="3.1"/><circle cx="751.4" cy="1053" r="3.1"/><circle cx="765.7" cy="1052.2" r="3.1"/><circle cx="780" cy="1052" r="3.1"/></g>
<path fill="#D60505" d="M208 877.6a3.5 3.5 0 0 0 0 7zM222.3 930.8a3.5 3.5 0 0 0 0 7zM236.6 975.3a3.5 3.5 0 0 0 0 7zM250.9 1010.6a3.5 3.5 0 0 0 0 7zM265.2 1040a3.5 3.5 0 0 0 0 7zM279.5 1062.7a3.5 3.5 0 0 0 0 7zM293.8 1080.9a3.5 3.5 0 0 0 0 7zM308.1 1095.8a3.5 3.5 0 0 0 0 7zM322.4 1105.8a3.5 3.5 0 0 0 0 7zM336.7 1112.9a3.5 3.5 0 0 0 0 7zM351 1117.9a3.5 3.5 0 0 0 0 7zM365.3 1121.3a3.5 3.5 0 0 0 0 7zM379.6 1122.6a3.5 3.5 0 0 0 0 7zM393.9 1122.6a3.5 3.5 0 0 0 0 7zM408.2 1121.3a3.5 3.5 0 0 0 0 7zM422.5 1119.1a3.5 3.5 0 0 0 0 7zM436.8 1116.3a3.5 3.5 0 0 0 0 7zM451.1 1112.5a3.5 3.5 0 0 0 0 7zM465.4 1108.3a3.5 3.5 0 0 0 0 7zM479.7 1103.8a3.5 3.5 0 0 0 0 7zM494 1098.7a3.5 3.5 0 0 0 0 7zM508.3 1093.3a3.5 3.5 0 0 0 0 7zM522.6 1087.7a3.5 3.5 0 0 0 0 7zM536.9 1082.4a3.5 3.5 0 0 0 0 7zM551.2 1076.7a3.5 3.5 0 0 0 0 7zM565.5 1071.4a3.5 3.5 0 0 0 0 7zM579.8 1066.2a3.5 3.5 0 0 0 0 7zM594.1 1061a3.5 3.5 0 0 0 0 7zM608.4 1056a3.5 3.5 0 0 0 0 7zM622.7 1051.1a3.5 3.5 0 0 0 0 7zM637 1046.5a3.5 3.5 0 0 0 0 7zM651.3 1043a3.5 3.5 0 0 0 0 7zM665.6 1041a3.5 3.5 0 0 0 0 7zM679.9 1040.1a3.5 3.5 0 0 0 0 7zM694.2 1040.1a3.5 3.5 0 0 0 0 7zM708.5 1040.8a3.5 3.5 0 0 0 0 7zM722.8 1042.5a3.5 3.5 0 0 0 0 7zM737.1 1042.1a3.5 3.5 0 0 0 0 7zM751.4 1049.5a3.5 3.5 0 0 0 0 7zM765.7 1048.7a3.5 3.5 0 0 0 0 7zM780 1048.5a3.5 3.5 0 0 0 0 7z"/>
<polyline fill="none" stroke="#D60505" stroke-width="2.5" stroke-linejoin="round" stroke-linecap="round" points="208,881.1 211.6,895.1 215.1,908.7 218.7,921.7 222.3,934.3 225.9,946.3 229.5,957.8 233,968.6 236.6,978.8 240.2,988.4 243.8,997.4 247.3,1005.9 250.9,1014.1 254.5,1022 258,1029.6 261.6,1036.7 265.2,1043.5 268.8,1049.8 272.4,1055.6 275.9,1061.1 279.5,1066.2 283.1,1071.1 286.6,1075.7 290.2,1080.1 293.8,1084.4 297.4,1088.5 301,1092.4 304.5,1096 308.1,1099.3 311.7,1102.2 315.2,1104.8 318.8,1107.2 322.4,1109.3 326,1111.3 329.5,1113.1 333.1,1114.8 336.7,1116.4 340.3,1117.8 343.9,1119.1 347.4,1120.3 351,1121.4 354.6,1122.4 358.1,1123.3 361.7,1124.1 365.3,1124.8 368.9,1125.3 372.5,1125.7 376,1125.9 379.6,1126.1 383.2,1126.2 386.8,1126.3 390.3,1126.2 393.9,1126.1 397.5,1125.9 401,1125.6 404.6,1125.2 408.2,1124.8 411.8,1124.3 415.4,1123.8 418.9,1123.2 422.5,1122.6 426.1,1122 429.6,1121.3 433.2,1120.6 436.8,1119.8 440.4,1118.9 444,1118 447.5,1117 451.1,1116 454.7,1115 458.2,1113.9 461.8,1112.9 465.4,1111.8 469,1110.7 472.5,1109.6 476.1,1108.5 479.7,1107.3 483.3,1106.1 486.9,1104.8 490.4,1103.5 494,1102.2 497.6,1100.9 501.2,1099.5 504.7,1098.2 508.3,1096.8 511.9,1095.4 515.5,1094 519,1092.6 522.6,1091.2 526.2,1089.9 529.8,1088.6 533.3,1087.2 536.9,1085.9 540.5,1084.5 544,1083.1 547.6,1081.6 551.2,1080.2 554.8,1078.8 558.4,1077.5 561.9,1076.2 565.5,1074.9 569.1,1073.6 572.7,1072.3 576.2,1071 579.8,1069.7 583.4,1068.4 587,1067.1 590.5,1065.8 594.1,1064.5 597.7,1063.2 601.2,1062 604.8,1060.7 608.4,1059.5 612,1058.3 615.5,1057 619.1,1055.8 622.7,1054.6 626.3,1053.4 629.9,1052.2 633.4,1051.1 637,1050 640.6,1049 644.2,1048.1 647.7,1047.2 651.3,1046.5 654.9,1045.9 658.5,1045.3 662,1044.9 665.6,1044.5 669.2,1044.2 672.8,1043.9 676.3,1043.7 679.9,1043.6 683.5,1043.5 687,1043.5 690.6,1043.5 694.2,1043.6 697.8,1043.7 701.4,1043.8 704.9,1044 708.5,1044.3 712.1,1044.6 715.7,1045 719.2,1045.5 722.8,1046 726.4,1046.6 730,1047.2 733.5,1047.8 737.1,1048.5 740.7,1049.2 744.2,1049.8 747.8,1050.5 751.4,1051 755,1051.4 758.5,1051.8 762.1,1052 765.7,1052.2 769.3,1052.3 772.9,1052.3 776.4,1052.2 780,1052"/>
<g fill="#fff" fill-opacity="0.35" stroke="#378FCB" stroke-opacity="0.8" stroke-width="0.9"><circle cx="208" cy="710.6" r="3.1"/><circle cx="222.3" cy="761.3" r="3.1"/><circle cx="236.6" cy="804.9" r="3.1"/><circle cx="250.9" cy="839.4" r="3.1"/><circle cx="265.2" cy="869.3" r="3.1"/><circle cx="279.5" cy="894" r="3.1"/><circle cx="293.8" cy="913.3" r="3.1"/><circle cx="308.1" cy="929.9" r="3.1"/><circle cx="322.4" cy="943" r="3.1"/><circle cx="336.7" cy="954.4" r="3.1"/><circle cx="351" cy="964.3" r="3.1"/><circle cx="365.3" cy="971.8" r="3.1"/><circle cx="379.6" cy="978.8" r="3.1"/><circle cx="393.9" cy="984.9" r="3.1"/><circle cx="408.2" cy="990.2" r="3.1"/><circle cx="422.5" cy="995.4" r="3.1"/><circle cx="436.8" cy="1000.3" r="3.1"/><circle cx="451.1" cy="1004.7" r="3.1"/><circle cx="465.4" cy="1008.2" r="3.1"/><circle cx="479.7" cy="1011" r="3.1"/><circle cx="494" cy="1013.3" r="3.1"/><circle cx="508.3" cy="1016" r="3.1"/><circle cx="522.6" cy="1018.3" r="3.1"/><circle cx="536.9" cy="1020.5" r="3.1"/><circle cx="551.2" cy="1022" r="3.1"/><circle cx="565.5" cy="1022.4" r="3.1"/><circle cx="579.8" cy="1022" r="3.1"/><circle cx="594.1" cy="1021.1" r="3.1"/><circle cx="608.4" cy="1019.2" r="3.1"/><circle cx="622.7" cy="1017.7" r="3.1"/><circle cx="637" cy="1016.8" r="3.1"/><circle cx="651.3" cy="1016.8" r="3.1"/><circle cx="665.6" cy="1017.3" r="3.1"/><circle cx="679.9" cy="1018.6" r="3.1"/><circle cx="694.2" cy="1020.1" r="3.1"/><circle cx="708.5" cy="1021.1" r="3.1"/><circle cx="722.8" cy="1021.6" r="3.1"/><circle cx="737.1" cy="1021.1" r="3.1"/><circle cx="751.4" cy="1020.5" r="3.1"/><circle cx="765.7" cy="1021.8" r="3.1"/><circle cx="780" cy="1029.1" r="3.1"/></g>
<path fill="#378FCB" d="M204.5 710.6a3.5 3.5 0 0 1 7 0zM218.8 761.3a3.5 3.5 0 0 1 7 0zM233.1 804.9a3.5 3.5 0 0 1 7 0zM247.4 839.4a3.5 3.5 0 0 1 7 0zM261.7 869.3a3.5 3.5 0 0 1 7 0zM276 894a3.5 3.5 0 0 1 7 0zM290.3 913.3a3.5 3.5 0 0 1 7 0zM304.6 929.9a3.5 3.5 0 0 1 7 0zM318.9 943a3.5 3.5 0 0 1 7 0zM333.2 954.4a3.5 3.5 0 0 1 7 0zM347.5 964.3a3.5 3.5 0 0 1 7 0zM361.8 971.8a3.5 3.5 0 0 1 7 0zM376.1 978.8a3.5 3.5 0 0 1 7 0zM390.4 984.9a3.5 3.5 0 0 1 7 0zM404.7 990.2a3.5 3.5 0 0 1 7 0zM419 995.4a3.5 3.5 0 0 1 7 0zM433.3 1000.3a3.5 3.5 0 0 1 7 0zM447.6 1004.7a3.5 3.5 0 0 1 7 0zM461.9 1008.2a3.5 3.5 0 0 1 7 0zM476.2 1011a3.5 3.5 0 0 1 7 0zM490.5 1013.3a3.5 3.5 0 0 1 7 0zM504.8 1016a3.5 3.5 0 0 1 7 0zM519.1 1018.3a3.5 3.5 0 0 1 7 0zM533.4 1020.5a3.5 3.5 0 0 1 7 0zM547.7 1022a3.5 3.5 0 0 1 7 0zM562 1022.4a3.5 3.5 0 0 1 7 0zM576.3 1022a3.5 3.5 0 0 1 7 0zM590.6 1021.1a3.5 3.5 0 0 1 7 0zM604.9 1019.2a3.5 3.5 0 0 1 7 0zM619.2 1017.7a3.5 3.5 0 0 1 7 0zM633.5 1016.8a3.5 3.5 0 0 1 7 0zM647.8 1016.8a3.5 3.5 0 0 1 7 0zM662.1 1017.3a3.5 3.5 0 0 1 7 0zM676.4 1018.6a3.5 3.5 0 0 1 7 0zM690.7 1020.1a3.5 3.5 0 0 1 7 0zM705 1021.1a3.5 3.5 0 0 1 7 0zM719.3 1021.6a3.5 3.5 0 0 1 7 0zM733.6 1021.1a3.5 3.5 0 0 1 7 0zM747.9 1020.5a3.5 3.5 0 0 1 7 0zM762.2 1021.8a3.5 3.5 0 0 1 7 0zM776.5 1029.1a3.5 3.5 0 0 1 7 0z"/>
<polyline fill="none" stroke="#378FCB" stroke-width="2.5" stroke-linejoin="round" stroke-linecap="round" points="208,710.6 211.6,723.7 215.1,736.6 218.7,749.1 222.3,761.3 225.9,773 229.5,784.2 233,794.9 236.6,804.9 240.2,814.2 243.8,823 247.3,831.4 250.9,839.4 254.5,847.2 258,854.9 261.6,862.2 265.2,869.3 268.8,876 272.4,882.4 275.9,888.4 279.5,894 283.1,899.2 286.6,904.1 290.2,908.8 293.8,913.3 297.4,917.7 301,922 304.5,926.1 308.1,929.9 311.7,933.5 315.2,936.8 318.8,940 322.4,943 326,946 329.5,948.8 333.1,951.7 336.7,954.4 340.3,957.1 343.9,959.6 347.4,962.1 351,964.3 354.6,966.3 358.1,968.2 361.7,970 365.3,971.8 368.9,973.6 372.5,975.4 376,977.1 379.6,978.8 383.2,980.4 386.8,982 390.3,983.5 393.9,984.9 397.5,986.3 401,987.6 404.6,988.9 408.2,990.2 411.8,991.5 415.4,992.8 418.9,994.1 422.5,995.4 426.1,996.7 429.6,997.9 433.2,999.1 436.8,1000.3 440.4,1001.5 444,1002.6 447.5,1003.7 451.1,1004.7 454.7,1005.7 458.2,1006.6 461.8,1007.4 465.4,1008.2 469,1009 472.5,1009.7 476.1,1010.4 479.7,1011 483.3,1011.6 486.9,1012.1 490.4,1012.7 494,1013.3 497.6,1014 501.2,1014.6 504.7,1015.3 508.3,1016 511.9,1016.6 515.5,1017.2 519,1017.7 522.6,1018.3 526.2,1018.9 529.8,1019.4 533.3,1020 536.9,1020.5 540.5,1021 544,1021.4 547.6,1021.7 551.2,1022 554.8,1022.2 558.4,1022.3 561.9,1022.4 565.5,1022.4 569.1,1022.4 572.7,1022.3 576.2,1022.1 579.8,1022 583.4,1021.8 587,1021.7 590.5,1021.4 594.1,1021.1 597.7,1020.7 601.2,1020.2 604.8,1019.7 608.4,1019.2 612,1018.8 615.5,1018.4 619.1,1018 622.7,1017.7 626.3,1017.4 629.9,1017.2 633.4,1016.9 637,1016.8 640.6,1016.7 644.2,1016.7 647.7,1016.7 651.3,1016.8 654.9,1016.9 658.5,1017 662,1017.1 665.6,1017.3 669.2,1017.6 672.8,1017.9 676.3,1018.2 679.9,1018.6 683.5,1019 687,1019.4 690.6,1019.8 694.2,1020.1 697.8,1020.4 701.4,1020.7 704.9,1020.9 708.5,1021.1 712.1,1021.3 715.7,1021.5 719.2,1021.6 722.8,1021.6 726.4,1021.6 730,1021.4 733.5,1021.3 737.1,1021.1 740.7,1020.9 744.2,1020.7 747.8,1020.6 751.4,1020.5 755,1020.5 758.5,1020.7 762.1,1021.1 765.7,1021.8 769.3,1022.9 772.9,1024.4 776.4,1026.5 780,1029.1"/>
<g fill="#fff" fill-opacity="0.35" stroke="#FA8208" stroke-opacity="0.8" stroke-width="0.9"><circle cx="208" cy="716.7" r="3.1"/><circle cx="222.3" cy="768.2" r="3.1"/><circle cx="236.6" cy="810.2" r="3.1"/><circle cx="250.9" cy="844.2" r="3.1"/><circle cx="265.2" cy="872.2" r="3.1"/><circle cx="279.5" cy="894.1" r="3.1"/><circle cx="293.8" cy="911.5" r="3.1"/><circle cx="308.1" cy="925.5" r="3.1"/><circle cx="322.4" cy="936.9" r="3.1"/><circle cx="336.7" cy="945.6" r="3.1"/><circle cx="351" cy="953.5" r="3.1"/><circle cx="365.3" cy="961.3" r="3.1"/><circle cx="379.6" cy="969.2" r="3.1"/><circle cx="393.9" cy="977.1" r="3.1"/><circle cx="408.2" cy="985.5" r="3.1"/><circle cx="422.5" cy="993.7" r="3.1"/><circle cx="436.8" cy="1000.7" r="3.1"/><circle cx="451.1" cy="1007.3" r="3.1"/><circle cx="465.4" cy="1012.5" r="3.1"/><circle cx="479.7" cy="1016.6" r="3.1"/><circle cx="494" cy="1019.3" r="3.1"/><circle cx="508.3" cy="1022" r="3.1"/><circle cx="522.6" cy="1024.8" r="3.1"/><circle cx="536.9" cy="1027.6" r="3.1"/><circle cx="551.2" cy="1029.8" r="3.1"/><circle cx="565.5" cy="1032.3" r="3.1"/><circle cx="579.8" cy="1034.5" r="3.1"/><circle cx="594.1" cy="1036.5" r="3.1"/><circle cx="608.4" cy="1038.4" r="3.1"/><circle cx="622.7" cy="1040.1" r="3.1"/><circle cx="637" cy="1041" r="3.1"/><circle cx="651.3" cy="1041" r="3.1"/><circle cx="665.6" cy="1039.7" r="3.1"/><circle cx="679.9" cy="1036.5" r="3.1"/><circle cx="694.2" cy="1032.3" r="3.1"/><circle cx="708.5" cy="1027.6" r="3.1"/><circle cx="722.8" cy="1023.5" r="3.1"/><circle cx="737.1" cy="1020.1" r="3.1"/><circle cx="751.4" cy="1017.3" r="3.1"/><circle cx="765.7" cy="1014.5" r="3.1"/><circle cx="780" cy="1014.9" r="3.1"/></g>
<path fill="#FA8208" d="M204.5 716.7a3.5 3.5 0 0 0 7 0zM218.8 768.2a3.5 3.5 0 0 0 7 0zM233.1 810.2a3.5 3.5 0 0 0 7 0zM247.4 844.2a3.5 3.5 0 0 0 7 0zM261.7 872.2a3.5 3.5 0 0 0 7 0zM276 894.1a3.5 3.5 0 0 0 7 0zM290.3 911.5a3.5 3.5 0 0 0 7 0zM304.6 925.5a3.5 3.5 0 0 0 7 0zM318.9 936.9a3.5 3.5 0 0 0 7 0zM333.2 945.6a3.5 3.5 0 0 0 7 0zM347.5 953.5a3.5 3.5 0 0 0 7 0zM361.8 961.3a3.5 3.5 0 0 0 7 0zM376.1 969.2a3.5 3.5 0 0 0 7 0zM390.4 977.1a3.5 3.5 0 0 0 7 0zM404.7 985.5a3.5 3.5 0 0 0 7 0zM419 993.7a3.5 3.5 0 0 0 7 0zM433.3 1000.7a3.5 3.5 0 0 0 7 0zM447.6 1007.3a3.5 3.5 0 0 0 7 0zM461.9 1012.5a3.5 3.5 0 0 0 7 0zM476.2 1016.6a3.5 3.5 0 0 0 7 0zM490.5 1019.3a3.5 3.5 0 0 0 7 0zM504.8 1022a3.5 3.5 0 0 0 7 0zM519.1 1024.8a3.5 3.5 0 0 0 7 0zM533.4 1027.6a3.5 3.5 0 0 0 7 0zM547.7 1029.8a3.5 3.5 0 0 0 7 0zM562 1032.3a3.5 3.5 0 0 0 7 0zM576.3 1034.5a3.5 3.5 0 0 0 7 0zM590.6 1036.5a3.5 3.5 0 0 0 7 0zM604.9 1038.4a3.5 3.5 0 0 0 7 0zM619.2 1040.1a3.5 3.5 0 0 0 7 0zM633.5 1041a3.5 3.5 0 0 0 7 0zM647.8 1041a3.5 3.5 0 0 0 7 0zM662.1 1039.7a3.5 3.5 0 0 0 7 0zM676.4 1036.5a3.5 3.5 0 0 0 7 0zM690.7 1032.3a3.5 3.5 0 0 0 7 0zM705 1027.6a3.5 3.5 0 0 0 7 0zM719.3 1023.5a3.5 3.5 0 0 0 7 0zM733.6 1020.1a3.5 3.5 0 0 0 7 0zM747.9 1017.3a3.5 3.5 0 0 0 7 0zM762.2 1014.5a3.5 3.5 0 0 0 7 0zM776.5 1014.9a3.5 3.5 0 0 0 7 0z"/>
<polyline fill="none" stroke="#FA8208" stroke-width="2.5" stroke-linejoin="round" stroke-linecap="round" points="208,716.7 211.6,730.5 215.1,743.7 218.7,756.3 222.3,768.2 225.9,779.5 229.5,790.3 233,800.5 236.6,810.2 240.2,819.4 243.8,828 247.3,836.3 250.9,844.2 254.5,851.8 258,859 261.6,865.8 265.2,872.2 268.8,878.2 272.4,883.8 275.9,889.1 279.5,894.1 283.1,898.8 286.6,903.3 290.2,907.5 293.8,911.5 297.4,915.3 301,918.9 304.5,922.3 308.1,925.5 311.7,928.6 315.2,931.5 318.8,934.3 322.4,936.9 326,939.3 329.5,941.5 333.1,943.6 336.7,945.6 340.3,947.6 343.9,949.6 347.4,951.5 351,953.5 354.6,955.4 358.1,957.4 361.7,959.3 365.3,961.3 368.9,963.3 372.5,965.3 376,967.2 379.6,969.2 383.2,971.2 386.8,973.1 390.3,975.1 393.9,977.1 397.5,979.2 401,981.3 404.6,983.4 408.2,985.5 411.8,987.6 415.4,989.7 418.9,991.8 422.5,993.7 426.1,995.5 429.6,997.3 433.2,999 436.8,1000.7 440.4,1002.4 444,1004.1 447.5,1005.7 451.1,1007.3 454.7,1008.7 458.2,1010.1 461.8,1011.3 465.4,1012.5 469,1013.6 472.5,1014.7 476.1,1015.7 479.7,1016.6 483.3,1017.4 486.9,1018 490.4,1018.7 494,1019.3 497.6,1019.9 501.2,1020.6 504.7,1021.3 508.3,1022 511.9,1022.7 515.5,1023.4 519,1024.1 522.6,1024.8 526.2,1025.5 529.8,1026.3 533.3,1027 536.9,1027.6 540.5,1028.2 544,1028.7 547.6,1029.2 551.2,1029.8 554.8,1030.4 558.4,1031 561.9,1031.7 565.5,1032.3 569.1,1032.9 572.7,1033.4 576.2,1034 579.8,1034.5 583.4,1035 587,1035.5 590.5,1036 594.1,1036.5 597.7,1037 601.2,1037.5 604.8,1037.9 608.4,1038.4 612,1038.9 615.5,1039.3 619.1,1039.7 622.7,1040.1 626.3,1040.4 629.9,1040.7 633.4,1040.9 637,1041 640.6,1041.1 644.2,1041.1 647.7,1041.1 651.3,1041 654.9,1040.8 658.5,1040.6 662,1040.2 665.6,1039.7 669.2,1039.1 672.8,1038.3 676.3,1037.4 679.9,1036.5 683.5,1035.5 687,1034.5 690.6,1033.4 694.2,1032.3 697.8,1031.1 701.4,1029.9 704.9,1028.8 708.5,1027.6 712.1,1026.5 715.7,1025.5 719.2,1024.5 722.8,1023.5 726.4,1022.6 730,1021.7 733.5,1020.9 737.1,1020.1 740.7,1019.4 744.2,1018.7 747.8,1018 751.4,1017.3 755,1016.5 758.5,1015.8 762.1,1015.1 765.7,1014.5 769.3,1014.1 772.9,1014 776.4,1014.2 780,1014.9"/>
<g stroke="#000" stroke-width="2" fill="none">
<rect x="136.5" y="672.1" width="715" height="547"/>
<path d="M136.5 1219.1v6M208 1219.1v10.3M279.5 1219.1v6M351 1219.1v10.3M422.5 1219.1v6M494 1219.1v10.3M565.5 1219.1v6M637 1219.1v10.3M708.5 1219.1v6M780 1219.1v10.3M851.5 1219.1v6M136.5 1219.1h-5.5M136.5 1184.9h-10.4M136.5 1150.7h-5.5M136.5 1116.5h-10.4M136.5 1082.3h-5.5M136.5 1048.2h-10.4M136.5 1014h-5.5M136.5 979.8h-10.4M136.5 945.6h-5.5M136.5 911.4h-10.4M136.5 877.2h-5.5M136.5 843h-10.4M136.5 808.8h-5.5M136.5 774.7h-10.4M136.5 740.5h-5.5M136.5 706.3h-10.4M136.5 672.1h-5.5"/>
</g>
<g font-size="30" text-anchor="middle">
<text transform="translate(208 1259.7) scale(1 1.03)">2.0</text>
<text transform="translate(351 1259.7) scale(1 1.03)">2.5</text>
<text transform="translate(494 1259.7) scale(1 1.03)">3.0</text>
<text transform="translate(637 1259.7) scale(1 1.03)">3.5</text>
<text transform="translate(780 1259.7) scale(1 1.03)">4.0</text>
</g>
<g font-size="30" text-anchor="end">
<text transform="translate(118.9 1194) scale(1 1.03)">0</text>
<text transform="translate(118.9 1125.6) scale(1 1.03)">10000</text>
<text transform="translate(118.9 1057.3) scale(1 1.03)">20000</text>
<text transform="translate(118.9 988.9) scale(1 1.03)">30000</text>
<text transform="translate(118.9 920.5) scale(1 1.03)">40000</text>
<text transform="translate(118.9 852.1) scale(1 1.03)">50000</text>
<text transform="translate(118.9 783.8) scale(1 1.03)">60000</text>
<text transform="translate(118.9 715.4) scale(1 1.03)">70000</text>
</g>
<text x="492.9" y="1312.4" font-size="35" text-anchor="middle"><tspan font-style="italic">R</tspan> (Å)</text>
<text transform="translate(31.4 944.3) rotate(-90) scale(1 0.94)" font-size="34.6" text-anchor="middle">Potential energy (cm<tspan dy="-14.2" font-size="22">-1</tspan><tspan dy="14.2">)</tspan></text>
<text transform="translate(437.7 717.1) scale(1 0.94)" font-size="34.4">(c) PbBr</text>
<g fill="#fff" fill-opacity="0.35" stroke="#FA8208" stroke-opacity="0.8" stroke-width="0.9"><circle cx="692.1" cy="722.2" r="3.1"/></g>
<path fill="#FA8208" d="M688.6 722.2a3.5 3.5 0 0 0 7 0z"/>
<text transform="translate(727.7 733.7) scale(1 0.92)" font-size="35"><tspan dx="0" dy="0" font-size="35">C</tspan><tspan dx="-2.1" dy="9.1" font-size="22">1</tspan><tspan dx="0.4" dy="-24.3" font-size="22">2</tspan><tspan dx="-0.3" dy="15.2" font-size="35" textLength="25" lengthAdjust="spacingAndGlyphs">Π</tspan><tspan dx="-0.5" dy="9.1" font-size="22">3/2</tspan></text>
<g fill="#fff" fill-opacity="0.35" stroke="#378FCB" stroke-opacity="0.8" stroke-width="0.9"><circle cx="692.1" cy="775.7" r="3.1"/></g>
<path fill="#378FCB" d="M688.6 775.7a3.5 3.5 0 0 1 7 0z"/>
<text transform="translate(727.7 787.2) scale(1 0.92)" font-size="35"><tspan dx="0" dy="0" font-size="35">B</tspan><tspan dx="-1" dy="-15.2" font-size="22">2</tspan><tspan dx="-0.3" dy="15.2" font-size="35">Σ</tspan><tspan dx="-2.6" dy="9.1" font-size="22">1/2</tspan></text>
<g fill="#fff" fill-opacity="0.35" stroke="#6CA119" stroke-opacity="0.8" stroke-width="0.9"><circle cx="692.1" cy="829.2" r="3.1"/></g>
<path fill="#6CA119" d="M692.1 825.7a3.5 3.5 0 0 1 0 7z"/>
<text transform="translate(727.7 840.7) scale(1 0.92)" font-size="35"><tspan dx="0" dy="0" font-size="35">A</tspan><tspan dx="-1" dy="-15.2" font-size="22">2</tspan><tspan dx="-0.3" dy="15.2" font-size="35">Σ</tspan><tspan dx="-2.6" dy="9.1" font-size="22">1/2</tspan></text>
<g fill="#fff" fill-opacity="0.35" stroke="#D60505" stroke-opacity="0.8" stroke-width="0.9"><circle cx="692.1" cy="882.7" r="3.1"/></g>
<path fill="#D60505" d="M692.1 879.2a3.5 3.5 0 0 0 0 7z"/>
<text transform="translate(727.7 894.2) scale(1 0.92)" font-size="35"><tspan dx="0" dy="0" font-size="35">X</tspan><tspan dx="-2.1" dy="9.1" font-size="22">2</tspan><tspan dx="0.4" dy="-24.3" font-size="22">2</tspan><tspan dx="-0.3" dy="15.2" font-size="35" textLength="25" lengthAdjust="spacingAndGlyphs">Π</tspan><tspan dx="-0.5" dy="9.1" font-size="22">3/2</tspan></text>
<g fill="#0A00A6"><circle cx="692.1" cy="936.2" r="3.4"/></g>
<text transform="translate(727.7 947.7) scale(1 0.92)" font-size="35"><tspan dx="0" dy="0" font-size="35">X</tspan><tspan dx="-2.1" dy="9.1" font-size="22">1</tspan><tspan dx="0.4" dy="-24.3" font-size="22">2</tspan><tspan dx="-0.3" dy="15.2" font-size="35" textLength="25" lengthAdjust="spacingAndGlyphs">Π</tspan><tspan dx="-0.5" dy="9.1" font-size="22">1/2</tspan></text>
</g>
<g id="panel-d">
<g fill="#0A00A6"><circle cx="1050.6" cy="931.9" r="3.4"/><circle cx="1067.6" cy="981.7" r="3.4"/><circle cx="1084.6" cy="1023.6" r="3.4"/><circle cx="1101.6" cy="1058.6" r="3.4"/><circle cx="1118.7" cy="1087.1" r="3.4"/><circle cx="1135.7" cy="1109.4" r="3.4"/><circle cx="1152.7" cy="1129.5" r="3.4"/><circle cx="1169.7" cy="1144.4" r="3.4"/><circle cx="1186.8" cy="1156.5" r="3.4"/><circle cx="1203.8" cy="1165.7" r="3.4"/><circle cx="1220.8" cy="1173.2" r="3.4"/><circle cx="1237.8" cy="1178.5" r="3.4"/><circle cx="1254.9" cy="1182" r="3.4"/><circle cx="1271.9" cy="1184.4" r="3.4"/><circle cx="1288.9" cy="1185.3" r="3.4"/><circle cx="1305.9" cy="1185.3" r="3.4"/><circle cx="1323" cy="1184.4" r="3.4"/><circle cx="1340" cy="1182.8" r="3.4"/><circle cx="1357" cy="1180.9" r="3.4"/><circle cx="1374" cy="1178.5" r="3.4"/><circle cx="1391" cy="1175.3" r="3.4"/><circle cx="1408.1" cy="1172" r="3.4"/><circle cx="1425.1" cy="1168.6" r="3.4"/><circle cx="1442.1" cy="1164.8" r="3.4"/><circle cx="1459.1" cy="1161" r="3.4"/><circle cx="1476.2" cy="1157" r="3.4"/><circle cx="1493.2" cy="1153" r="3.4"/><circle cx="1510.2" cy="1149.1" r="3.4"/><circle cx="1527.2" cy="1145.3" r="3.4"/><circle cx="1544.3" cy="1141.3" r="3.4"/><circle cx="1561.3" cy="1137.2" r="3.4"/><circle cx="1578.3" cy="1133.4" r="3.4"/><circle cx="1595.3" cy="1129.5" r="3.4"/><circle cx="1612.4" cy="1125.9" r="3.4"/><circle cx="1629.4" cy="1122.4" r="3.4"/><circle cx="1646.4" cy="1118.9" r="3.4"/><circle cx="1663.4" cy="1115.6" r="3.4"/></g>
<polyline fill="none" stroke="#0A00A6" stroke-width="2.5" stroke-linejoin="round" stroke-linecap="round" points="1050.6,931.9 1054.8,945.1 1059.1,957.9 1063.3,970 1067.6,981.7 1071.9,992.9 1076.1,1003.6 1080.4,1013.8 1084.6,1023.6 1088.9,1033 1093.1,1041.9 1097.4,1050.4 1101.6,1058.6 1105.9,1066.4 1110.2,1073.7 1114.4,1080.6 1118.7,1087.1 1122.9,1093.1 1127.2,1098.7 1131.4,1104.1 1135.7,1109.4 1139.9,1114.7 1144.2,1119.9 1148.5,1124.9 1152.7,1129.5 1157,1133.7 1161.2,1137.5 1165.5,1141 1169.7,1144.4 1174,1147.6 1178.2,1150.8 1182.5,1153.7 1186.8,1156.5 1191,1159 1195.3,1161.4 1199.5,1163.6 1203.8,1165.7 1208,1167.7 1212.3,1169.7 1216.6,1171.5 1220.8,1173.2 1225.1,1174.7 1229.3,1176.1 1233.6,1177.4 1237.8,1178.5 1242.1,1179.5 1246.3,1180.4 1250.6,1181.2 1254.9,1182 1259.1,1182.7 1263.4,1183.4 1267.6,1183.9 1271.9,1184.4 1276.1,1184.8 1280.4,1185 1284.6,1185.2 1288.9,1185.3 1293.2,1185.4 1297.4,1185.4 1301.7,1185.4 1305.9,1185.3 1310.2,1185.2 1314.4,1185 1318.7,1184.7 1323,1184.4 1327.2,1184 1331.5,1183.7 1335.7,1183.2 1340,1182.8 1344.2,1182.4 1348.5,1181.9 1352.7,1181.4 1357,1180.9 1361.3,1180.4 1365.5,1179.8 1369.8,1179.2 1374,1178.5 1378.3,1177.8 1382.5,1177 1386.8,1176.1 1391,1175.3 1395.3,1174.5 1399.6,1173.6 1403.8,1172.8 1408.1,1172 1412.3,1171.2 1416.6,1170.3 1420.8,1169.5 1425.1,1168.6 1429.4,1167.7 1433.6,1166.7 1437.9,1165.8 1442.1,1164.8 1446.4,1163.9 1450.6,1162.9 1454.9,1162 1459.1,1161 1463.4,1160 1467.7,1159 1471.9,1158 1476.2,1157 1480.4,1156 1484.7,1155 1488.9,1154 1493.2,1153 1497.4,1152 1501.7,1151 1506,1150.1 1510.2,1149.1 1514.5,1148.2 1518.7,1147.2 1523,1146.3 1527.2,1145.3 1531.5,1144.3 1535.8,1143.3 1540,1142.3 1544.3,1141.3 1548.5,1140.3 1552.8,1139.2 1557,1138.2 1561.3,1137.2 1565.5,1136.2 1569.8,1135.3 1574.1,1134.4 1578.3,1133.4 1582.6,1132.4 1586.8,1131.4 1591.1,1130.5 1595.3,1129.5 1599.6,1128.6 1603.8,1127.7 1608.1,1126.8 1612.4,1125.9 1616.6,1125 1620.9,1124.2 1625.1,1123.3 1629.4,1122.4 1633.6,1121.5 1637.9,1120.6 1642.1,1119.8 1646.4,1118.9 1650.7,1118 1654.9,1117.2 1659.2,1116.4 1663.4,1115.6"/>
<g fill="#fff" fill-opacity="0.35" stroke="#6CA119" stroke-opacity="0.8" stroke-width="0.9"><circle cx="1050.6" cy="735.8" r="3.1"/><circle cx="1067.6" cy="784.7" r="3.1"/><circle cx="1084.6" cy="827.6" r="3.1"/><circle cx="1101.6" cy="863.4" r="3.1"/><circle cx="1118.7" cy="893.1" r="3.1"/><circle cx="1135.7" cy="918.8" r="3.1"/><circle cx="1152.7" cy="942" r="3.1"/><circle cx="1169.7" cy="961.8" r="3.1"/><circle cx="1186.8" cy="979.2" r="3.1"/><circle cx="1203.8" cy="993.6" r="3.1"/><circle cx="1220.8" cy="1004.9" r="3.1"/><circle cx="1237.8" cy="1015.4" r="3.1"/><circle cx="1254.9" cy="1024.2" r="3.1"/><circle cx="1271.9" cy="1031.7" r="3.1"/><circle cx="1288.9" cy="1038.1" r="3.1"/><circle cx="1305.9" cy="1043.2" r="3.1"/><circle cx="1323" cy="1046.1" r="3.1"/><circle cx="1340" cy="1048.6" r="3.1"/><circle cx="1357" cy="1050.8" r="3.1"/><circle cx="1374" cy="1052.6" r="3.1"/><circle cx="1391" cy="1053.5" r="3.1"/><circle cx="1408.1" cy="1054.1" r="3.1"/><circle cx="1425.1" cy="1054.6" r="3.1"/><circle cx="1442.1" cy="1054.8" r="3.1"/><circle cx="1459.1" cy="1055.2" r="3.1"/><circle cx="1476.2" cy="1055.7" r="3.1"/><circle cx="1493.2" cy="1056.6" r="3.1"/><circle cx="1510.2" cy="1057.9" r="3.1"/><circle cx="1527.2" cy="1059.7" r="3.1"/><circle cx="1544.3" cy="1061.4" r="3.1"/><circle cx="1561.3" cy="1063.4" r="3.1"/><circle cx="1578.3" cy="1064.8" r="3.1"/><circle cx="1595.3" cy="1065.2" r="3.1"/><circle cx="1612.4" cy="1064.8" r="3.1"/><circle cx="1629.4" cy="1064.1" r="3.1"/><circle cx="1646.4" cy="1064.1" r="3.1"/><circle cx="1663.4" cy="1065.6" r="3.1"/></g>
<path fill="#6CA119" d="M1050.6 732.3a3.5 3.5 0 0 0 0 7zM1067.6 781.2a3.5 3.5 0 0 0 0 7zM1084.6 824.1a3.5 3.5 0 0 0 0 7zM1101.6 859.9a3.5 3.5 0 0 0 0 7zM1118.7 889.6a3.5 3.5 0 0 0 0 7zM1135.7 915.3a3.5 3.5 0 0 0 0 7zM1152.7 938.5a3.5 3.5 0 0 0 0 7zM1169.7 958.3a3.5 3.5 0 0 0 0 7zM1186.8 975.7a3.5 3.5 0 0 0 0 7zM1203.8 990.1a3.5 3.5 0 0 0 0 7zM1220.8 1001.4a3.5 3.5 0 0 0 0 7zM1237.8 1011.9a3.5 3.5 0 0 0 0 7zM1254.9 1020.7a3.5 3.5 0 0 0 0 7zM1271.9 1028.2a3.5 3.5 0 0 0 0 7zM1288.9 1034.6a3.5 3.5 0 0 0 0 7zM1305.9 1039.7a3.5 3.5 0 0 0 0 7zM1323 1042.6a3.5 3.5 0 0 0 0 7zM1340 1045.1a3.5 3.5 0 0 0 0 7zM1357 1047.3a3.5 3.5 0 0 0 0 7zM1374 1049.1a3.5 3.5 0 0 0 0 7zM1391 1050a3.5 3.5 0 0 0 0 7zM1408.1 1050.6a3.5 3.5 0 0 0 0 7zM1425.1 1051.1a3.5 3.5 0 0 0 0 7zM1442.1 1051.3a3.5 3.5 0 0 0 0 7zM1459.1 1051.7a3.5 3.5 0 0 0 0 7zM1476.2 1052.2a3.5 3.5 0 0 0 0 7zM1493.2 1053.1a3.5 3.5 0 0 0 0 7zM1510.2 1054.4a3.5 3.5 0 0 0 0 7zM1527.2 1056.2a3.5 3.5 0 0 0 0 7zM1544.3 1057.9a3.5 3.5 0 0 0 0 7zM1561.3 1059.9a3.5 3.5 0 0 0 0 7zM1578.3 1061.3a3.5 3.5 0 0 0 0 7zM1595.3 1061.7a3.5 3.5 0 0 0 0 7zM1612.4 1061.3a3.5 3.5 0 0 0 0 7zM1629.4 1060.6a3.5 3.5 0 0 0 0 7zM1646.4 1060.6a3.5 3.5 0 0 0 0 7zM1663.4 1062.1a3.5 3.5 0 0 0 0 7z"/>
<polyline fill="none" stroke="#6CA119" stroke-width="2.5" stroke-linejoin="round" stroke-linecap="round" points="1050.6,735.8 1054.8,748.5 1059.1,760.9 1063.3,773 1067.6,784.7 1071.9,796 1076.1,807 1080.4,817.5 1084.6,827.6 1088.9,837.2 1093.1,846.4 1097.4,855.1 1101.6,863.4 1105.9,871.3 1110.2,878.9 1114.4,886.1 1118.7,893.1 1122.9,899.8 1127.2,906.3 1131.4,912.6 1135.7,918.8 1139.9,924.9 1144.2,930.8 1148.5,936.5 1152.7,942 1157,947.3 1161.2,952.3 1165.5,957.1 1169.7,961.8 1174,966.4 1178.2,970.8 1182.5,975.1 1186.8,979.2 1191,983.1 1195.3,986.8 1199.5,990.3 1203.8,993.6 1208,996.6 1212.3,999.5 1216.6,1002.2 1220.8,1004.9 1225.1,1007.6 1229.3,1010.3 1233.6,1012.9 1237.8,1015.4 1242.1,1017.8 1246.3,1020 1250.6,1022.2 1254.9,1024.2 1259.1,1026.2 1263.4,1028.1 1267.6,1029.9 1271.9,1031.7 1276.1,1033.4 1280.4,1035 1284.6,1036.6 1288.9,1038.1 1293.2,1039.5 1297.4,1040.9 1301.7,1042.1 1305.9,1043.2 1310.2,1044.1 1314.4,1044.8 1318.7,1045.5 1323,1046.1 1327.2,1046.7 1331.5,1047.4 1335.7,1048 1340,1048.6 1344.2,1049.2 1348.5,1049.7 1352.7,1050.3 1357,1050.8 1361.3,1051.3 1365.5,1051.8 1369.8,1052.2 1374,1052.6 1378.3,1052.9 1382.5,1053.1 1386.8,1053.3 1391,1053.5 1395.3,1053.7 1399.6,1053.8 1403.8,1054 1408.1,1054.1 1412.3,1054.2 1416.6,1054.4 1420.8,1054.5 1425.1,1054.6 1429.4,1054.7 1433.6,1054.7 1437.9,1054.7 1442.1,1054.8 1446.4,1054.9 1450.6,1055 1454.9,1055.1 1459.1,1055.2 1463.4,1055.3 1467.7,1055.4 1471.9,1055.5 1476.2,1055.7 1480.4,1055.9 1484.7,1056.1 1488.9,1056.3 1493.2,1056.6 1497.4,1056.9 1501.7,1057.2 1506,1057.5 1510.2,1057.9 1514.5,1058.3 1518.7,1058.8 1523,1059.2 1527.2,1059.7 1531.5,1060.1 1535.8,1060.5 1540,1061 1544.3,1061.4 1548.5,1061.9 1552.8,1062.4 1557,1062.9 1561.3,1063.4 1565.5,1063.8 1569.8,1064.2 1574.1,1064.5 1578.3,1064.8 1582.6,1065 1586.8,1065.1 1591.1,1065.2 1595.3,1065.2 1599.6,1065.2 1603.8,1065.1 1608.1,1065 1612.4,1064.8 1616.6,1064.6 1620.9,1064.4 1625.1,1064.2 1629.4,1064.1 1633.6,1064 1637.9,1064 1642.1,1064 1646.4,1064.1 1650.7,1064.3 1654.9,1064.6 1659.2,1065 1663.4,1065.6"/>
<g fill="#fff" fill-opacity="0.35" stroke="#D60505" stroke-opacity="0.8" stroke-width="0.9"><circle cx="1050.6" cy="882.6" r="3.1"/><circle cx="1067.6" cy="932.1" r="3.1"/><circle cx="1084.6" cy="972.3" r="3.1"/><circle cx="1101.6" cy="1006.2" r="3.1"/><circle cx="1118.7" cy="1034.6" r="3.1"/><circle cx="1135.7" cy="1057.9" r="3.1"/><circle cx="1152.7" cy="1076.1" r="3.1"/><circle cx="1169.7" cy="1090.8" r="3.1"/><circle cx="1186.8" cy="1102" r="3.1"/><circle cx="1203.8" cy="1110.2" r="3.1"/><circle cx="1220.8" cy="1117.1" r="3.1"/><circle cx="1237.8" cy="1122" r="3.1"/><circle cx="1254.9" cy="1125.2" r="3.1"/><circle cx="1271.9" cy="1126.9" r="3.1"/><circle cx="1288.9" cy="1127.6" r="3.1"/><circle cx="1305.9" cy="1126.9" r="3.1"/><circle cx="1323" cy="1125.5" r="3.1"/><circle cx="1340" cy="1123.6" r="3.1"/><circle cx="1357" cy="1121" r="3.1"/><circle cx="1374" cy="1118" r="3.1"/><circle cx="1391" cy="1114.8" r="3.1"/><circle cx="1408.1" cy="1111.2" r="3.1"/><circle cx="1425.1" cy="1107.3" r="3.1"/><circle cx="1442.1" cy="1103" r="3.1"/><circle cx="1459.1" cy="1098.4" r="3.1"/><circle cx="1476.2" cy="1094" r="3.1"/><circle cx="1493.2" cy="1089.6" r="3.1"/><circle cx="1510.2" cy="1085.8" r="3.1"/><circle cx="1527.2" cy="1082.2" r="3.1"/><circle cx="1544.3" cy="1078.9" r="3.1"/><circle cx="1561.3" cy="1076.3" r="3.1"/><circle cx="1578.3" cy="1075.2" r="3.1"/><circle cx="1595.3" cy="1074.7" r="3.1"/><circle cx="1612.4" cy="1075.2" r="3.1"/><circle cx="1629.4" cy="1075.8" r="3.1"/><circle cx="1646.4" cy="1076.5" r="3.1"/><circle cx="1663.4" cy="1076.7" r="3.1"/></g>
<path fill="#D60505" d="M1047.1 882.6a3.5 3.5 0 0 1 7 0zM1064.1 932.1a3.5 3.5 0 0 1 7 0zM1081.1 972.3a3.5 3.5 0 0 1 7 0zM1098.1 1006.2a3.5 3.5 0 0 1 7 0zM1115.2 1034.6a3.5 3.5 0 0 1 7 0zM1132.2 1057.9a3.5 3.5 0 0 1 7 0zM1149.2 1076.1a3.5 3.5 0 0 1 7 0zM1166.2 1090.8a3.5 3.5 0 0 1 7 0zM1183.3 1102a3.5 3.5 0 0 1 7 0zM1200.3 1110.2a3.5 3.5 0 0 1 7 0zM1217.3 1117.1a3.5 3.5 0 0 1 7 0zM1234.3 1122a3.5 3.5 0 0 1 7 0zM1251.4 1125.2a3.5 3.5 0 0 1 7 0zM1268.4 1126.9a3.5 3.5 0 0 1 7 0zM1285.4 1127.6a3.5 3.5 0 0 1 7 0zM1302.4 1126.9a3.5 3.5 0 0 1 7 0zM1319.5 1125.5a3.5 3.5 0 0 1 7 0zM1336.5 1123.6a3.5 3.5 0 0 1 7 0zM1353.5 1121a3.5 3.5 0 0 1 7 0zM1370.5 1118a3.5 3.5 0 0 1 7 0zM1387.5 1114.8a3.5 3.5 0 0 1 7 0zM1404.6 1111.2a3.5 3.5 0 0 1 7 0zM1421.6 1107.3a3.5 3.5 0 0 1 7 0zM1438.6 1103a3.5 3.5 0 0 1 7 0zM1455.6 1098.4a3.5 3.5 0 0 1 7 0zM1472.7 1094a3.5 3.5 0 0 1 7 0zM1489.7 1089.6a3.5 3.5 0 0 1 7 0zM1506.7 1085.8a3.5 3.5 0 0 1 7 0zM1523.7 1082.2a3.5 3.5 0 0 1 7 0zM1540.8 1078.9a3.5 3.5 0 0 1 7 0zM1557.8 1076.3a3.5 3.5 0 0 1 7 0zM1574.8 1075.2a3.5 3.5 0 0 1 7 0zM1591.8 1074.7a3.5 3.5 0 0 1 7 0zM1608.9 1075.2a3.5 3.5 0 0 1 7 0zM1625.9 1075.8a3.5 3.5 0 0 1 7 0zM1642.9 1076.5a3.5 3.5 0 0 1 7 0zM1659.9 1076.7a3.5 3.5 0 0 1 7 0z"/>
<polyline fill="none" stroke="#D60505" stroke-width="2.5" stroke-linejoin="round" stroke-linecap="round" points="1050.6,882.6 1054.8,896 1059.1,908.7 1063.3,920.7 1067.6,932.1 1071.9,942.9 1076.1,953.1 1080.4,962.9 1084.6,972.3 1088.9,981.3 1093.1,990 1097.4,998.3 1101.6,1006.2 1105.9,1013.8 1110.2,1021.1 1114.4,1028 1118.7,1034.6 1122.9,1040.9 1127.2,1046.9 1131.4,1052.6 1135.7,1057.9 1139.9,1062.9 1144.2,1067.5 1148.5,1071.9 1152.7,1076.1 1157,1080.1 1161.2,1083.9 1165.5,1087.4 1169.7,1090.8 1174,1093.9 1178.2,1096.8 1182.5,1099.5 1186.8,1102 1191,1104.3 1195.3,1106.3 1199.5,1108.3 1203.8,1110.2 1208,1112 1212.3,1113.8 1216.6,1115.5 1220.8,1117.1 1225.1,1118.5 1229.3,1119.8 1233.6,1121 1237.8,1122 1242.1,1122.9 1246.3,1123.8 1250.6,1124.6 1254.9,1125.2 1259.1,1125.7 1263.4,1126.2 1267.6,1126.6 1271.9,1126.9 1276.1,1127.2 1280.4,1127.4 1284.6,1127.5 1288.9,1127.6 1293.2,1127.5 1297.4,1127.4 1301.7,1127.2 1305.9,1126.9 1310.2,1126.6 1314.4,1126.3 1318.7,1125.9 1323,1125.5 1327.2,1125.1 1331.5,1124.6 1335.7,1124.1 1340,1123.6 1344.2,1123 1348.5,1122.4 1352.7,1121.7 1357,1121 1361.3,1120.3 1365.5,1119.5 1369.8,1118.8 1374,1118 1378.3,1117.2 1382.5,1116.4 1386.8,1115.6 1391,1114.8 1395.3,1113.9 1399.6,1113 1403.8,1112.1 1408.1,1111.2 1412.3,1110.3 1416.6,1109.3 1420.8,1108.3 1425.1,1107.3 1429.4,1106.3 1433.6,1105.2 1437.9,1104.1 1442.1,1103 1446.4,1101.9 1450.6,1100.7 1454.9,1099.5 1459.1,1098.4 1463.4,1097.3 1467.7,1096.2 1471.9,1095.1 1476.2,1094 1480.4,1092.9 1484.7,1091.8 1488.9,1090.7 1493.2,1089.6 1497.4,1088.6 1501.7,1087.6 1506,1086.7 1510.2,1085.8 1514.5,1084.9 1518.7,1084 1523,1083.1 1527.2,1082.2 1531.5,1081.3 1535.8,1080.5 1540,1079.7 1544.3,1078.9 1548.5,1078.1 1552.8,1077.4 1557,1076.8 1561.3,1076.3 1565.5,1075.9 1569.8,1075.6 1574.1,1075.4 1578.3,1075.2 1582.6,1075 1586.8,1074.9 1591.1,1074.7 1595.3,1074.7 1599.6,1074.8 1603.8,1074.9 1608.1,1075 1612.4,1075.2 1616.6,1075.4 1620.9,1075.5 1625.1,1075.6 1629.4,1075.8 1633.6,1076 1637.9,1076.2 1642.1,1076.3 1646.4,1076.5 1650.7,1076.6 1654.9,1076.7 1659.2,1076.7 1663.4,1076.7"/>
<g fill="#fff" fill-opacity="0.35" stroke="#FA8208" stroke-opacity="0.8" stroke-width="0.9"><circle cx="1050.6" cy="730.6" r="3.1"/><circle cx="1067.6" cy="779.5" r="3.1"/><circle cx="1084.6" cy="820.6" r="3.1"/><circle cx="1101.6" cy="856.4" r="3.1"/><circle cx="1118.7" cy="887.3" r="3.1"/><circle cx="1135.7" cy="909.2" r="3.1"/><circle cx="1152.7" cy="929" r="3.1"/><circle cx="1169.7" cy="946.9" r="3.1"/><circle cx="1186.8" cy="961.6" r="3.1"/><circle cx="1203.8" cy="973.5" r="3.1"/><circle cx="1220.8" cy="984.8" r="3.1"/><circle cx="1237.8" cy="994.5" r="3.1"/><circle cx="1254.9" cy="1002.3" r="3.1"/><circle cx="1271.9" cy="1009.3" r="3.1"/><circle cx="1288.9" cy="1015.4" r="3.1"/><circle cx="1305.9" cy="1020.8" r="3.1"/><circle cx="1323" cy="1026" r="3.1"/><circle cx="1340" cy="1030.9" r="3.1"/><circle cx="1357" cy="1035.3" r="3.1"/><circle cx="1374" cy="1038.6" r="3.1"/><circle cx="1391" cy="1041.5" r="3.1"/><circle cx="1408.1" cy="1043.7" r="3.1"/><circle cx="1425.1" cy="1045.3" r="3.1"/><circle cx="1442.1" cy="1046" r="3.1"/><circle cx="1459.1" cy="1046" r="3.1"/><circle cx="1476.2" cy="1045.7" r="3.1"/><circle cx="1493.2" cy="1045.3" r="3.1"/><circle cx="1510.2" cy="1044.2" r="3.1"/><circle cx="1527.2" cy="1043.1" r="3.1"/><circle cx="1544.3" cy="1041.5" r="3.1"/><circle cx="1561.3" cy="1040.2" r="3.1"/><circle cx="1578.3" cy="1039.1" r="3.1"/><circle cx="1595.3" cy="1038" r="3.1"/><circle cx="1612.4" cy="1036.7" r="3.1"/><circle cx="1629.4" cy="1035.3" r="3.1"/><circle cx="1646.4" cy="1034.4" r="3.1"/><circle cx="1663.4" cy="1033.6" r="3.1"/></g>
<path fill="#FA8208" d="M1050.6 727.1a3.5 3.5 0 0 1 0 7zM1067.6 776a3.5 3.5 0 0 1 0 7zM1084.6 817.1a3.5 3.5 0 0 1 0 7zM1101.6 852.9a3.5 3.5 0 0 1 0 7zM1118.7 883.8a3.5 3.5 0 0 1 0 7zM1135.7 905.7a3.5 3.5 0 0 1 0 7zM1152.7 925.5a3.5 3.5 0 0 1 0 7zM1169.7 943.4a3.5 3.5 0 0 1 0 7zM1186.8 958.1a3.5 3.5 0 0 1 0 7zM1203.8 970a3.5 3.5 0 0 1 0 7zM1220.8 981.3a3.5 3.5 0 0 1 0 7zM1237.8 991a3.5 3.5 0 0 1 0 7zM1254.9 998.8a3.5 3.5 0 0 1 0 7zM1271.9 1005.8a3.5 3.5 0 0 1 0 7zM1288.9 1011.9a3.5 3.5 0 0 1 0 7zM1305.9 1017.3a3.5 3.5 0 0 1 0 7zM1323 1022.5a3.5 3.5 0 0 1 0 7zM1340 1027.4a3.5 3.5 0 0 1 0 7zM1357 1031.8a3.5 3.5 0 0 1 0 7zM1374 1035.1a3.5 3.5 0 0 1 0 7zM1391 1038a3.5 3.5 0 0 1 0 7zM1408.1 1040.2a3.5 3.5 0 0 1 0 7zM1425.1 1041.8a3.5 3.5 0 0 1 0 7zM1442.1 1042.5a3.5 3.5 0 0 1 0 7zM1459.1 1042.5a3.5 3.5 0 0 1 0 7zM1476.2 1042.2a3.5 3.5 0 0 1 0 7zM1493.2 1041.8a3.5 3.5 0 0 1 0 7zM1510.2 1040.7a3.5 3.5 0 0 1 0 7zM1527.2 1039.6a3.5 3.5 0 0 1 0 7zM1544.3 1038a3.5 3.5 0 0 1 0 7zM1561.3 1036.7a3.5 3.5 0 0 1 0 7zM1578.3 1035.6a3.5 3.5 0 0 1 0 7zM1595.3 1034.5a3.5 3.5 0 0 1 0 7zM1612.4 1033.2a3.5 3.5 0 0 1 0 7zM1629.4 1031.8a3.5 3.5 0 0 1 0 7zM1646.4 1030.9a3.5 3.5 0 0 1 0 7zM1663.4 1030.1a3.5 3.5 0 0 1 0 7z"/>
<polyline fill="none" stroke="#FA8208" stroke-width="2.5" stroke-linejoin="round" stroke-linecap="round" points="1050.6,730.6 1054.8,743.7 1059.1,756.2 1063.3,768.1 1067.6,779.5 1071.9,790.4 1076.1,800.9 1080.4,810.9 1084.6,820.6 1088.9,829.9 1093.1,839 1097.4,847.8 1101.6,856.4 1105.9,864.8 1110.2,872.8 1114.4,880.4 1118.7,887.3 1122.9,893.5 1127.2,899 1131.4,904.2 1135.7,909.2 1139.9,914.2 1144.2,919.2 1148.5,924.1 1152.7,929 1157,933.7 1161.2,938.3 1165.5,942.7 1169.7,946.9 1174,950.9 1178.2,954.7 1182.5,958.2 1186.8,961.6 1191,964.7 1195.3,967.7 1199.5,970.6 1203.8,973.5 1208,976.4 1212.3,979.2 1216.6,982.1 1220.8,984.8 1225.1,987.4 1229.3,989.9 1233.6,992.3 1237.8,994.5 1242.1,996.6 1246.3,998.6 1250.6,1000.5 1254.9,1002.3 1259.1,1004.1 1263.4,1005.9 1267.6,1007.6 1271.9,1009.3 1276.1,1010.9 1280.4,1012.5 1284.6,1014 1288.9,1015.4 1293.2,1016.8 1297.4,1018.1 1301.7,1019.5 1305.9,1020.8 1310.2,1022.1 1314.4,1023.4 1318.7,1024.7 1323,1026 1327.2,1027.3 1331.5,1028.5 1335.7,1029.7 1340,1030.9 1344.2,1032.1 1348.5,1033.2 1352.7,1034.3 1357,1035.3 1361.3,1036.2 1365.5,1037 1369.8,1037.8 1374,1038.6 1378.3,1039.4 1382.5,1040.1 1386.8,1040.8 1391,1041.5 1395.3,1042.1 1399.6,1042.7 1403.8,1043.2 1408.1,1043.7 1412.3,1044.2 1416.6,1044.6 1420.8,1045 1425.1,1045.3 1429.4,1045.6 1433.6,1045.8 1437.9,1045.9 1442.1,1046 1446.4,1046.1 1450.6,1046.1 1454.9,1046 1459.1,1046 1463.4,1045.9 1467.7,1045.9 1471.9,1045.8 1476.2,1045.7 1480.4,1045.6 1484.7,1045.6 1488.9,1045.5 1493.2,1045.3 1497.4,1045.1 1501.7,1044.8 1506,1044.5 1510.2,1044.2 1514.5,1043.9 1518.7,1043.7 1523,1043.4 1527.2,1043.1 1531.5,1042.7 1535.8,1042.3 1540,1041.9 1544.3,1041.5 1548.5,1041.1 1552.8,1040.8 1557,1040.5 1561.3,1040.2 1565.5,1039.9 1569.8,1039.6 1574.1,1039.4 1578.3,1039.1 1582.6,1038.8 1586.8,1038.6 1591.1,1038.3 1595.3,1038 1599.6,1037.7 1603.8,1037.4 1608.1,1037.1 1612.4,1036.7 1616.6,1036.3 1620.9,1036 1625.1,1035.6 1629.4,1035.3 1633.6,1035 1637.9,1034.8 1642.1,1034.6 1646.4,1034.4 1650.7,1034.2 1654.9,1034 1659.2,1033.8 1663.4,1033.6"/>
<g fill="#fff" fill-opacity="0.35" stroke="#378FCB" stroke-opacity="0.8" stroke-width="0.9"><circle cx="1050.6" cy="734.9" r="3.1"/><circle cx="1067.6" cy="782.1" r="3.1"/><circle cx="1084.6" cy="822.3" r="3.1"/><circle cx="1101.6" cy="854.6" r="3.1"/><circle cx="1118.7" cy="882.6" r="3.1"/><circle cx="1135.7" cy="904.6" r="3.1"/><circle cx="1152.7" cy="922.8" r="3.1"/><circle cx="1169.7" cy="938.5" r="3.1"/><circle cx="1186.8" cy="952.5" r="3.1"/><circle cx="1203.8" cy="966.1" r="3.1"/><circle cx="1220.8" cy="979.6" r="3.1"/><circle cx="1237.8" cy="991.8" r="3.1"/><circle cx="1254.9" cy="1003.2" r="3.1"/><circle cx="1271.9" cy="1013.7" r="3.1"/><circle cx="1288.9" cy="1022.4" r="3.1"/><circle cx="1305.9" cy="1029.8" r="3.1"/><circle cx="1323" cy="1035.4" r="3.1"/><circle cx="1340" cy="1040.9" r="3.1"/><circle cx="1357" cy="1046" r="3.1"/><circle cx="1374" cy="1049.7" r="3.1"/><circle cx="1391" cy="1053" r="3.1"/><circle cx="1408.1" cy="1056.4" r="3.1"/><circle cx="1425.1" cy="1059.2" r="3.1"/><circle cx="1442.1" cy="1061.9" r="3.1"/><circle cx="1459.1" cy="1064.1" r="3.1"/><circle cx="1476.2" cy="1065.9" r="3.1"/><circle cx="1493.2" cy="1067.9" r="3.1"/><circle cx="1510.2" cy="1069.2" r="3.1"/><circle cx="1527.2" cy="1070.3" r="3.1"/><circle cx="1544.3" cy="1070.7" r="3.1"/><circle cx="1561.3" cy="1070.3" r="3.1"/><circle cx="1578.3" cy="1069" r="3.1"/><circle cx="1595.3" cy="1066.8" r="3.1"/><circle cx="1612.4" cy="1063.7" r="3.1"/><circle cx="1629.4" cy="1060.1" r="3.1"/><circle cx="1646.4" cy="1056.4" r="3.1"/><circle cx="1663.4" cy="1052.6" r="3.1"/></g>
<path fill="#378FCB" d="M1047.1 734.9a3.5 3.5 0 0 0 7 0zM1064.1 782.1a3.5 3.5 0 0 0 7 0zM1081.1 822.3a3.5 3.5 0 0 0 7 0zM1098.1 854.6a3.5 3.5 0 0 0 7 0zM1115.2 882.6a3.5 3.5 0 0 0 7 0zM1132.2 904.6a3.5 3.5 0 0 0 7 0zM1149.2 922.8a3.5 3.5 0 0 0 7 0zM1166.2 938.5a3.5 3.5 0 0 0 7 0zM1183.3 952.5a3.5 3.5 0 0 0 7 0zM1200.3 966.1a3.5 3.5 0 0 0 7 0zM1217.3 979.6a3.5 3.5 0 0 0 7 0zM1234.3 991.8a3.5 3.5 0 0 0 7 0zM1251.4 1003.2a3.5 3.5 0 0 0 7 0zM1268.4 1013.7a3.5 3.5 0 0 0 7 0zM1285.4 1022.4a3.5 3.5 0 0 0 7 0zM1302.4 1029.8a3.5 3.5 0 0 0 7 0zM1319.5 1035.4a3.5 3.5 0 0 0 7 0zM1336.5 1040.9a3.5 3.5 0 0 0 7 0zM1353.5 1046a3.5 3.5 0 0 0 7 0zM1370.5 1049.7a3.5 3.5 0 0 0 7 0zM1387.5 1053a3.5 3.5 0 0 0 7 0zM1404.6 1056.4a3.5 3.5 0 0 0 7 0zM1421.6 1059.2a3.5 3.5 0 0 0 7 0zM1438.6 1061.9a3.5 3.5 0 0 0 7 0zM1455.6 1064.1a3.5 3.5 0 0 0 7 0zM1472.7 1065.9a3.5 3.5 0 0 0 7 0zM1489.7 1067.9a3.5 3.5 0 0 0 7 0zM1506.7 1069.2a3.5 3.5 0 0 0 7 0zM1523.7 1070.3a3.5 3.5 0 0 0 7 0zM1540.8 1070.7a3.5 3.5 0 0 0 7 0zM1557.8 1070.3a3.5 3.5 0 0 0 7 0zM1574.8 1069a3.5 3.5 0 0 0 7 0zM1591.8 1066.8a3.5 3.5 0 0 0 7 0zM1608.9 1063.7a3.5 3.5 0 0 0 7 0zM1625.9 1060.1a3.5 3.5 0 0 0 7 0zM1642.9 1056.4a3.5 3.5 0 0 0 7 0zM1659.9 1052.6a3.5 3.5 0 0 0 7 0z"/>
<polyline fill="none" stroke="#378FCB" stroke-width="2.5" stroke-linejoin="round" stroke-linecap="round" points="1050.6,734.9 1054.8,747.2 1059.1,759.2 1063.3,770.9 1067.6,782.1 1071.9,792.9 1076.1,803.2 1080.4,813 1084.6,822.3 1088.9,831 1093.1,839.2 1097.4,847 1101.6,854.6 1105.9,862 1110.2,869.2 1114.4,876.1 1118.7,882.6 1122.9,888.6 1127.2,894.3 1131.4,899.6 1135.7,904.6 1139.9,909.4 1144.2,914.1 1148.5,918.5 1152.7,922.8 1157,926.9 1161.2,930.9 1165.5,934.8 1169.7,938.5 1174,942.1 1178.2,945.6 1182.5,949.1 1186.8,952.5 1191,955.9 1195.3,959.3 1199.5,962.7 1203.8,966.1 1208,969.5 1212.3,972.9 1216.6,976.3 1220.8,979.6 1225.1,982.8 1229.3,985.9 1233.6,988.9 1237.8,991.8 1242.1,994.7 1246.3,997.6 1250.6,1000.4 1254.9,1003.2 1259.1,1006 1263.4,1008.6 1267.6,1011.2 1271.9,1013.7 1276.1,1016 1280.4,1018.2 1284.6,1020.4 1288.9,1022.4 1293.2,1024.4 1297.4,1026.3 1301.7,1028.1 1305.9,1029.8 1310.2,1031.3 1314.4,1032.7 1318.7,1034.1 1323,1035.4 1327.2,1036.8 1331.5,1038.1 1335.7,1039.5 1340,1040.9 1344.2,1042.3 1348.5,1043.6 1352.7,1044.8 1357,1046 1361.3,1047 1365.5,1048 1369.8,1048.9 1374,1049.7 1378.3,1050.5 1382.5,1051.3 1386.8,1052.2 1391,1053 1395.3,1053.9 1399.6,1054.7 1403.8,1055.6 1408.1,1056.4 1412.3,1057.1 1416.6,1057.9 1420.8,1058.5 1425.1,1059.2 1429.4,1059.9 1433.6,1060.6 1437.9,1061.3 1442.1,1061.9 1446.4,1062.5 1450.6,1063.1 1454.9,1063.6 1459.1,1064.1 1463.4,1064.6 1467.7,1065 1471.9,1065.4 1476.2,1065.9 1480.4,1066.4 1484.7,1066.9 1488.9,1067.4 1493.2,1067.9 1497.4,1068.3 1501.7,1068.6 1506,1068.9 1510.2,1069.2 1514.5,1069.5 1518.7,1069.8 1523,1070.1 1527.2,1070.3 1531.5,1070.5 1535.8,1070.6 1540,1070.7 1544.3,1070.7 1548.5,1070.7 1552.8,1070.6 1557,1070.5 1561.3,1070.3 1565.5,1070.1 1569.8,1069.8 1574.1,1069.4 1578.3,1069 1582.6,1068.5 1586.8,1068 1591.1,1067.4 1595.3,1066.8 1599.6,1066.1 1603.8,1065.3 1608.1,1064.5 1612.4,1063.7 1616.6,1062.8 1620.9,1061.9 1625.1,1061 1629.4,1060.1 1633.6,1059.2 1637.9,1058.3 1642.1,1057.3 1646.4,1056.4 1650.7,1055.5 1654.9,1054.5 1659.2,1053.6 1663.4,1052.6"/>
<g stroke="#000" stroke-width="2" fill="none">
<rect x="999.5" y="672.1" width="715" height="547"/>
<path d="M999.5 1219.1v10.3M1084.6 1219.1v6M1169.7 1219.1v10.3M1254.9 1219.1v6M1340 1219.1v10.3M1425.1 1219.1v6M1510.2 1219.1v10.3M1595.3 1219.1v6M1680.5 1219.1v10.3M999.5 1219.1h-5.5M999.5 1184.9h-10.4M999.5 1150.7h-5.5M999.5 1116.5h-10.4M999.5 1082.3h-5.5M999.5 1048.2h-10.4M999.5 1014h-5.5M999.5 979.8h-10.4M999.5 945.6h-5.5M999.5 911.4h-10.4M999.5 877.2h-5.5M999.5 843h-10.4M999.5 808.8h-5.5M999.5 774.7h-10.4M999.5 740.5h-5.5M999.5 706.3h-10.4M999.5 672.1h-5.5"/>
</g>
<g font-size="30" text-anchor="middle">
<text transform="translate(999.5 1259.7) scale(1 1.03)">2.0</text>
<text transform="translate(1169.7 1259.7) scale(1 1.03)">2.5</text>
<text transform="translate(1340 1259.7) scale(1 1.03)">3.0</text>
<text transform="translate(1510.2 1259.7) scale(1 1.03)">3.5</text>
<text transform="translate(1680.5 1259.7) scale(1 1.03)">4.0</text>
</g>
<g font-size="30" text-anchor="end">
<text transform="translate(981.9 1194) scale(1 1.03)">0</text>
<text transform="translate(981.9 1125.6) scale(1 1.03)">10000</text>
<text transform="translate(981.9 1057.3) scale(1 1.03)">20000</text>
<text transform="translate(981.9 988.9) scale(1 1.03)">30000</text>
<text transform="translate(981.9 920.5) scale(1 1.03)">40000</text>
<text transform="translate(981.9 852.1) scale(1 1.03)">50000</text>
<text transform="translate(981.9 783.8) scale(1 1.03)">60000</text>
<text transform="translate(981.9 715.4) scale(1 1.03)">70000</text>
</g>
<text x="1355.9" y="1312.4" font-size="35" text-anchor="middle"><tspan font-style="italic">R</tspan> (Å)</text>
<text transform="translate(895.7 944.3) rotate(-90) scale(1 0.94)" font-size="34.6" text-anchor="middle">Potential energy (cm<tspan dy="-14.2" font-size="22">-1</tspan><tspan dy="14.2">)</tspan></text>
<text transform="translate(1302.6 718) scale(1 0.98)" font-size="34.4">(d) PbI</text>
<g fill="#fff" fill-opacity="0.35" stroke="#FA8208" stroke-opacity="0.8" stroke-width="0.9"><circle cx="1555.1" cy="722.2" r="3.1"/></g>
<path fill="#FA8208" d="M1555.1 718.7a3.5 3.5 0 0 1 0 7z"/>
<text transform="translate(1590.7 733.7) scale(1 0.92)" font-size="35"><tspan dx="0" dy="0" font-size="35">C</tspan><tspan dx="-1" dy="-15.2" font-size="22">2</tspan><tspan dx="-0.3" dy="15.2" font-size="35">Σ</tspan><tspan dx="-2.6" dy="9.1" font-size="22">1/2</tspan></text>
<g fill="#fff" fill-opacity="0.35" stroke="#378FCB" stroke-opacity="0.8" stroke-width="0.9"><circle cx="1555.1" cy="775.7" r="3.1"/></g>
<path fill="#378FCB" d="M1551.6 775.7a3.5 3.5 0 0 0 7 0z"/>
<text transform="translate(1590.7 787.2) scale(1 0.92)" font-size="35"><tspan dx="0" dy="0" font-size="35">B</tspan><tspan dx="-2.1" dy="9.1" font-size="22">1</tspan><tspan dx="0.4" dy="-24.3" font-size="22">2</tspan><tspan dx="-0.3" dy="15.2" font-size="35" textLength="25" lengthAdjust="spacingAndGlyphs">Π</tspan><tspan dx="-0.5" dy="9.1" font-size="22">3/2</tspan></text>
<g fill="#fff" fill-opacity="0.35" stroke="#6CA119" stroke-opacity="0.8" stroke-width="0.9"><circle cx="1555.1" cy="829.2" r="3.1"/></g>
<path fill="#6CA119" d="M1555.1 825.7a3.5 3.5 0 0 0 0 7z"/>
<text transform="translate(1590.7 840.7) scale(1 0.92)" font-size="35"><tspan dx="0" dy="0" font-size="35">A</tspan><tspan dx="-1" dy="-15.2" font-size="22">2</tspan><tspan dx="-0.3" dy="15.2" font-size="35">Σ</tspan><tspan dx="-2.6" dy="9.1" font-size="22">1/2</tspan></text>
<g fill="#fff" fill-opacity="0.35" stroke="#D60505" stroke-opacity="0.8" stroke-width="0.9"><circle cx="1555.1" cy="882.7" r="3.1"/></g>
<path fill="#D60505" d="M1551.6 882.7a3.5 3.5 0 0 1 7 0z"/>
<text transform="translate(1590.7 894.2) scale(1 0.92)" font-size="35"><tspan dx="0" dy="0" font-size="35">X</tspan><tspan dx="-2.1" dy="9.1" font-size="22">2</tspan><tspan dx="0.4" dy="-24.3" font-size="22">2</tspan><tspan dx="-0.3" dy="15.2" font-size="35" textLength="25" lengthAdjust="spacingAndGlyphs">Π</tspan><tspan dx="-0.5" dy="9.1" font-size="22">3/2</tspan></text>
<g fill="#0A00A6"><circle cx="1555.1" cy="936.2" r="3.4"/></g>
<text transform="translate(1590.7 947.7) scale(1 0.92)" font-size="35"><tspan dx="0" dy="0" font-size="35">X</tspan><tspan dx="-2.1" dy="9.1" font-size="22">1</tspan><tspan dx="0.4" dy="-24.3" font-size="22">2</tspan><tspan dx="-0.3" dy="15.2" font-size="35" textLength="25" lengthAdjust="spacingAndGlyphs">Π</tspan><tspan dx="-0.5" dy="9.1" font-size="22">1/2</tspan></text>
</g>
</svg></body></html>
